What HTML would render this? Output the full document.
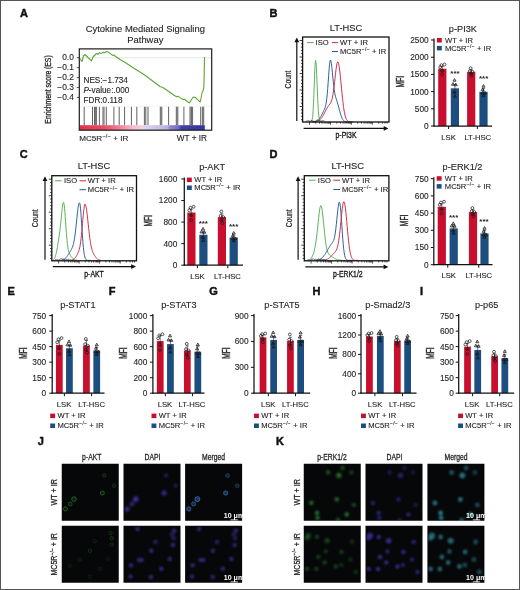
<!DOCTYPE html>
<html lang="en"><head><meta charset="utf-8"><title>Figure</title>
<style>html,body{margin:0;padding:0;background:#fff}body{width:520px;height:590px;overflow:hidden;font-family:"Liberation Sans",sans-serif}svg{display:block}text{white-space:pre}</style>
</head><body>
<svg width="520" height="590" viewBox="0 0 520 590" font-family="'Liberation Sans', sans-serif">
<defs><filter id="bl" x="-5%" y="-5%" width="110%" height="110%"><feGaussianBlur stdDeviation="0.8"/></filter><filter id="bl2" x="-5%" y="-5%" width="110%" height="110%"><feGaussianBlur stdDeviation="0.5"/></filter>
<linearGradient id="gs" x1="0" x2="1" y1="0" y2="0"><stop offset="0" stop-color="#e5304a"/><stop offset="0.2" stop-color="#ea4c66"/><stop offset="0.32" stop-color="#f0829a"/><stop offset="0.42" stop-color="#f4b9cb"/><stop offset="0.5" stop-color="#ecd3e6"/><stop offset="0.56" stop-color="#d3cdec"/><stop offset="0.7" stop-color="#b7b4e1"/><stop offset="0.72" stop-color="#8f8cd0"/><stop offset="0.79" stop-color="#6e6bc0"/><stop offset="0.81" stop-color="#4242aa"/><stop offset="1" stop-color="#34349e"/></linearGradient>
<clipPath id="cp1"><rect x="61.75" y="463.75" width="57" height="57"/></clipPath><clipPath id="cp2"><rect x="123.50" y="463.75" width="57" height="57"/></clipPath><clipPath id="cp3"><rect x="185.10" y="463.75" width="57" height="57"/></clipPath><clipPath id="cp4"><rect x="61.75" y="525.75" width="57" height="57"/></clipPath><clipPath id="cp5"><rect x="123.50" y="525.75" width="57" height="57"/></clipPath><clipPath id="cp6"><rect x="185.10" y="525.75" width="57" height="57"/></clipPath><clipPath id="cp7"><rect x="303.75" y="463.75" width="57" height="57"/></clipPath><clipPath id="cp8"><rect x="365.50" y="463.75" width="57" height="57"/></clipPath><clipPath id="cp9"><rect x="427.40" y="463.75" width="57" height="57"/></clipPath><clipPath id="cp10"><rect x="303.75" y="525.75" width="57" height="57"/></clipPath><clipPath id="cp11"><rect x="365.50" y="525.75" width="57" height="57"/></clipPath><clipPath id="cp12"><rect x="427.40" y="525.75" width="57" height="57"/></clipPath>
</defs>
<rect x="0" y="0" width="520" height="590" fill="#fff"/>
<text transform="translate(19.90,16.60)" font-size="11.0" text-anchor="start" font-weight="bold" fill="#111" style="stroke:#111;stroke-width:0.45">A</text>
<text transform="translate(269.40,16.60)" font-size="11.0" text-anchor="start" font-weight="bold" fill="#111" style="stroke:#111;stroke-width:0.45">B</text>
<text transform="translate(19.70,158.00)" font-size="11.0" text-anchor="start" font-weight="bold" fill="#111" style="stroke:#111;stroke-width:0.45">C</text>
<text transform="translate(269.60,158.00)" font-size="11.0" text-anchor="start" font-weight="bold" fill="#111" style="stroke:#111;stroke-width:0.45">D</text>
<text transform="translate(7.50,294.80)" font-size="11.0" text-anchor="start" font-weight="bold" fill="#111" style="stroke:#111;stroke-width:0.45">E</text>
<text transform="translate(108.70,294.80)" font-size="11.0" text-anchor="start" font-weight="bold" fill="#111" style="stroke:#111;stroke-width:0.45">F</text>
<text transform="translate(209.30,294.80)" font-size="11.0" text-anchor="start" font-weight="bold" fill="#111" style="stroke:#111;stroke-width:0.45">G</text>
<text transform="translate(312.50,294.80)" font-size="11.0" text-anchor="start" font-weight="bold" fill="#111" style="stroke:#111;stroke-width:0.45">H</text>
<text transform="translate(419.90,294.80)" font-size="11.0" text-anchor="start" font-weight="bold" fill="#111" style="stroke:#111;stroke-width:0.45">I</text>
<text transform="translate(37.70,445.00)" font-size="11.0" text-anchor="start" font-weight="bold" fill="#111" style="stroke:#111;stroke-width:0.45">J</text>
<text transform="translate(276.10,445.00)" font-size="11.0" text-anchor="start" font-weight="bold" fill="#111" style="stroke:#111;stroke-width:0.45">K</text>
<text transform="translate(145.30,31.80)" font-size="9.42" text-anchor="middle" fill="#231f20" stroke="#231f20" stroke-width="0.12">Cytokine Mediated Signaling</text>
<text transform="translate(145.30,43.10)" font-size="9.42" text-anchor="middle" fill="#231f20" stroke="#231f20" stroke-width="0.12">Pathway</text>
<line x1="79.30" y1="57.70" x2="211.70" y2="57.70" stroke="#d8d8d8" stroke-width="0.6"/>
<line x1="79.30" y1="106.30" x2="211.70" y2="106.30" stroke="#e4e4e4" stroke-width="0.5"/>
<line x1="84.20" y1="106.80" x2="84.20" y2="125.30" stroke="#3a3a3a" stroke-width="0.8"/>
<line x1="92.50" y1="106.80" x2="92.50" y2="125.30" stroke="#3a3a3a" stroke-width="0.8"/>
<line x1="94.50" y1="106.80" x2="94.50" y2="125.30" stroke="#3a3a3a" stroke-width="0.8"/>
<line x1="96.40" y1="106.80" x2="96.40" y2="125.30" stroke="#3a3a3a" stroke-width="0.8"/>
<line x1="99.40" y1="106.80" x2="99.40" y2="125.30" stroke="#3a3a3a" stroke-width="0.8"/>
<line x1="104.00" y1="106.80" x2="104.00" y2="125.30" stroke="#3a3a3a" stroke-width="0.8"/>
<line x1="106.30" y1="106.80" x2="106.30" y2="125.30" stroke="#3a3a3a" stroke-width="0.8"/>
<line x1="113.90" y1="106.80" x2="113.90" y2="125.30" stroke="#3a3a3a" stroke-width="0.8"/>
<line x1="119.20" y1="106.80" x2="119.20" y2="125.30" stroke="#3a3a3a" stroke-width="0.8"/>
<line x1="124.60" y1="106.80" x2="124.60" y2="125.30" stroke="#3a3a3a" stroke-width="0.8"/>
<line x1="131.40" y1="106.80" x2="131.40" y2="125.30" stroke="#3a3a3a" stroke-width="0.8"/>
<line x1="136.80" y1="106.80" x2="136.80" y2="125.30" stroke="#3a3a3a" stroke-width="0.8"/>
<line x1="144.40" y1="106.80" x2="144.40" y2="125.30" stroke="#3a3a3a" stroke-width="0.8"/>
<line x1="145.80" y1="106.80" x2="145.80" y2="125.30" stroke="#3a3a3a" stroke-width="0.8"/>
<line x1="148.00" y1="106.80" x2="148.00" y2="125.30" stroke="#3a3a3a" stroke-width="0.8"/>
<line x1="160.30" y1="106.80" x2="160.30" y2="125.30" stroke="#3a3a3a" stroke-width="0.8"/>
<line x1="161.80" y1="106.80" x2="161.80" y2="125.30" stroke="#3a3a3a" stroke-width="0.8"/>
<line x1="168.60" y1="106.80" x2="168.60" y2="125.30" stroke="#3a3a3a" stroke-width="0.8"/>
<line x1="176.30" y1="106.80" x2="176.30" y2="125.30" stroke="#3a3a3a" stroke-width="0.8"/>
<line x1="177.80" y1="106.80" x2="177.80" y2="125.30" stroke="#3a3a3a" stroke-width="0.8"/>
<line x1="183.90" y1="106.80" x2="183.90" y2="125.30" stroke="#3a3a3a" stroke-width="0.8"/>
<line x1="190.00" y1="106.80" x2="190.00" y2="125.30" stroke="#3a3a3a" stroke-width="0.8"/>
<line x1="191.50" y1="106.80" x2="191.50" y2="125.30" stroke="#3a3a3a" stroke-width="0.8"/>
<line x1="192.60" y1="106.80" x2="192.60" y2="125.30" stroke="#3a3a3a" stroke-width="0.8"/>
<line x1="200.70" y1="106.80" x2="200.70" y2="125.30" stroke="#3a3a3a" stroke-width="0.8"/>
<line x1="202.40" y1="106.80" x2="202.40" y2="125.30" stroke="#3a3a3a" stroke-width="0.8"/>
<line x1="203.70" y1="106.80" x2="203.70" y2="125.30" stroke="#3a3a3a" stroke-width="0.8"/>
<line x1="95.50" y1="106.80" x2="95.50" y2="125.30" stroke="#777" stroke-width="1.2"/>
<line x1="103.00" y1="106.80" x2="103.00" y2="125.30" stroke="#777" stroke-width="1.2"/>
<line x1="161.00" y1="106.80" x2="161.00" y2="125.30" stroke="#777" stroke-width="1.2"/>
<line x1="177.00" y1="106.80" x2="177.00" y2="125.30" stroke="#777" stroke-width="1.2"/>
<line x1="191.00" y1="106.80" x2="191.00" y2="125.30" stroke="#777" stroke-width="1.2"/>
<line x1="203.00" y1="106.80" x2="203.00" y2="125.30" stroke="#777" stroke-width="1.2"/>
<rect x="79.80" y="125.20" width="125.00" height="4.80" fill="url(#gs)"/>
<path d="M79.5,58 L80.5,59.5 L82,61.5 L83.5,56 L85,54.5 L87,56.5 L89,58.5 L91.5,60.8 L93,57 L95,55 L96.5,53.5 L98,54.3 L99.5,52.6 L101,53.6 L103,52.4 L104.5,52.8 L106.3,51.6 L108.5,52.3 L110.5,53.6 L112.5,55.4 L114,55 L116,56.8 L120,59.5 L126,63 L132,67 L138,70.8 L145,75.3 L152,80.5 L158,85 L160.3,86.7 L162.5,87.2 L168,91 L174,95.2 L176.3,96.6 L178,96.2 L180,97.6 L183,99.5 L184.5,99.2 L187,101.2 L189.2,102.9 L191,100.5 L192.5,98 L193.8,97 L195.5,97.5 L197.5,99.6 L200.2,102 L200.9,99 L201.5,95.5 L202.2,92 L203,91 L203.7,88.2 L204.1,80 L204.5,57" fill="none" stroke="#5fa533" stroke-width="1.1" stroke-linejoin="round"/>
<rect x="79.3" y="48.9" width="132.39999999999998" height="81.29999999999998" fill="none" stroke="#1c1c1c" stroke-width="1.2"/>
<line x1="76.80" y1="57.70" x2="79.30" y2="57.70" stroke="#2a2a2a" stroke-width="0.8"/>
<text transform="translate(73.80,60.30)" font-size="8.4" text-anchor="end" fill="#231f20" stroke="#231f20" stroke-width="0.12">0.0</text>
<line x1="76.80" y1="67.63" x2="79.30" y2="67.63" stroke="#2a2a2a" stroke-width="0.8"/>
<text transform="translate(73.80,70.23)" font-size="8.4" text-anchor="end" fill="#231f20" stroke="#231f20" stroke-width="0.12">−0.1</text>
<line x1="76.80" y1="77.56" x2="79.30" y2="77.56" stroke="#2a2a2a" stroke-width="0.8"/>
<text transform="translate(73.80,80.16)" font-size="8.4" text-anchor="end" fill="#231f20" stroke="#231f20" stroke-width="0.12">−0.2</text>
<line x1="76.80" y1="87.49" x2="79.30" y2="87.49" stroke="#2a2a2a" stroke-width="0.8"/>
<text transform="translate(73.80,90.09)" font-size="8.4" text-anchor="end" fill="#231f20" stroke="#231f20" stroke-width="0.12">−0.3</text>
<line x1="76.80" y1="97.42" x2="79.30" y2="97.42" stroke="#2a2a2a" stroke-width="0.8"/>
<text transform="translate(73.80,100.02)" font-size="8.4" text-anchor="end" fill="#231f20" stroke="#231f20" stroke-width="0.12">−0.4</text>
<text transform="translate(83.50,83.00)" font-size="8.2" text-anchor="start" fill="#231f20" stroke="#231f20" stroke-width="0.12">NES:−1.734</text>
<text transform="translate(83.40,93.00)" font-size="8.2" text-anchor="start" fill="#231f20" stroke="#231f20" stroke-width="0.12"><tspan font-style="italic">P</tspan>-value:.000</text>
<text transform="translate(83.50,103.00)" font-size="8.2" text-anchor="start" fill="#231f20" stroke="#231f20" stroke-width="0.12">FDR:0.118</text>
<text transform="translate(50.90,89.50) rotate(-90) scale(0.81,1)" font-size="8.4" text-anchor="middle" fill="#231f20" style="stroke-width:0.3" stroke="#231f20" stroke-width="0.22">Enrichment score (ES)</text>
<text transform="translate(79.20,141.00)" font-size="8.1" text-anchor="start" fill="#231f20" stroke="#231f20" stroke-width="0.12">MC5R<tspan font-size="5.35" dy="-2.92" dx="0.3" letter-spacing="0.25">−/−</tspan><tspan dy="2.92" dx="0.1"> + IR</tspan></text>
<text transform="translate(206.90,141.00)" font-size="8.2" text-anchor="end" fill="#231f20" stroke="#231f20" stroke-width="0.12">WT + IR</text>
<path d="M309.00,122.00 L309.18,122.00 L309.35,122.00 L309.52,122.00 L309.70,122.00 L309.88,121.99 L310.05,121.99 L310.23,121.98 L310.40,121.96 L310.57,121.94 L310.75,121.90 L310.93,121.85 L311.10,121.76 L311.27,121.64 L311.45,121.45 L311.62,121.19 L311.80,120.83 L311.98,120.32 L312.15,119.65 L312.32,118.75 L312.50,117.59 L312.68,116.11 L312.85,114.26 L313.02,112.00 L313.20,109.31 L313.38,106.15 L313.55,102.54 L313.73,98.51 L313.90,94.11 L314.07,89.44 L314.25,84.62 L314.43,79.80 L314.60,75.15 L314.77,70.86 L314.95,67.11 L315.12,64.07 L315.30,61.87 L315.48,60.63 L315.65,60.40 L315.82,61.06 L316.00,62.52 L316.18,64.73 L316.35,67.61 L316.52,71.04 L316.70,74.90 L316.88,79.05 L317.05,83.37 L317.23,87.73 L317.40,92.00 L317.57,96.10 L317.75,99.93 L317.93,103.46 L318.10,106.63 L318.27,109.43 L318.45,111.86 L318.62,113.93 L318.80,115.67 L318.98,117.10 L319.15,118.25 L319.32,119.18 L319.50,119.90 L319.68,120.46 L319.85,120.89 L320.02,121.21 L320.20,121.44 L320.38,121.61 L320.55,121.73 L320.73,121.82 L320.90,121.88 L321.07,121.92 L321.25,121.95 L321.43,121.97 L321.60,121.98 L321.77,121.99 L321.95,121.99 L322.12,122.00 L322.30,122.00 L322.48,122.00 L322.65,122.00 L322.82,122.00 L323.00,122.00" fill="none" stroke="#4fb04c" stroke-width="0.95" stroke-linejoin="round"/>
<path d="M312.00,121.97 L312.46,121.95 L312.93,121.93 L313.39,121.90 L313.85,121.85 L314.31,121.80 L314.77,121.72 L315.24,121.63 L315.70,121.50 L316.16,121.34 L316.62,121.15 L317.09,120.90 L317.55,120.60 L318.01,120.24 L318.48,119.82 L318.94,119.32 L319.40,118.75 L319.86,118.11 L320.32,117.40 L320.79,116.63 L321.25,115.80 L321.71,114.92 L322.18,114.02 L322.64,113.09 L323.10,112.17 L323.56,111.24 L324.02,110.29 L324.49,109.27 L324.95,108.09 L325.41,106.62 L325.88,104.68 L326.34,102.04 L326.80,98.50 L327.26,93.93 L327.73,88.37 L328.19,82.04 L328.65,75.43 L329.11,69.22 L329.57,64.16 L330.04,60.94 L330.50,60.00 L330.96,61.01 L331.43,63.62 L331.89,67.46 L332.35,72.08 L332.81,76.97 L333.27,81.72 L333.74,85.99 L334.20,89.61 L334.66,92.55 L335.12,94.88 L335.59,96.74 L336.05,98.30 L336.51,99.72 L336.98,101.13 L337.44,102.62 L337.90,104.21 L338.36,105.90 L338.82,107.67 L339.29,109.47 L339.75,111.24 L340.21,112.93 L340.68,114.50 L341.14,115.92 L341.60,117.16 L342.06,118.23 L342.52,119.11 L342.99,119.83 L343.45,120.41 L343.91,120.85 L344.38,121.19 L344.84,121.44 L345.30,121.62 L345.76,121.74 L346.23,121.83 L346.69,121.89 L347.15,121.93 L347.61,121.96 L348.07,121.97 L348.54,121.99 L349.00,121.99" fill="none" stroke="#245a99" stroke-width="0.95" stroke-linejoin="round"/>
<path d="M313.00,121.95 L313.50,121.93 L314.00,121.90 L314.50,121.86 L315.00,121.82 L315.50,121.75 L316.00,121.67 L316.50,121.57 L317.00,121.43 L317.50,121.27 L318.00,121.07 L318.50,120.82 L319.00,120.52 L319.50,120.17 L320.00,119.75 L320.50,119.27 L321.00,118.71 L321.50,118.08 L322.00,117.38 L322.50,116.61 L323.00,115.77 L323.50,114.86 L324.00,113.91 L324.50,112.93 L325.00,111.92 L325.50,110.91 L326.00,109.92 L326.50,108.96 L327.00,108.06 L327.50,107.22 L328.00,106.45 L328.50,105.75 L329.00,105.10 L329.50,104.47 L330.00,103.81 L330.50,103.04 L331.00,102.08 L331.50,100.82 L332.00,99.17 L332.50,97.03 L333.00,94.32 L333.50,91.02 L334.00,87.17 L334.50,82.88 L335.00,78.34 L335.50,73.80 L336.00,69.58 L336.50,66.00 L337.00,63.39 L337.50,62.00 L338.00,62.01 L338.50,63.31 L339.00,65.69 L339.50,69.03 L340.00,73.18 L340.50,77.91 L341.00,83.01 L341.50,88.22 L342.00,93.35 L342.50,98.21 L343.00,102.66 L343.50,106.60 L344.00,110.00 L344.50,112.85 L345.00,115.17 L345.50,117.00 L346.00,118.42 L346.50,119.50 L347.00,120.28 L347.50,120.85 L348.00,121.24 L348.50,121.51 L349.00,121.69 L349.50,121.81 L350.00,121.89 L350.50,121.93 L351.00,121.96 L351.50,121.98 L352.00,121.99 L352.50,121.99 L353.00,122.00" fill="none" stroke="#cb2840" stroke-width="0.95" stroke-linejoin="round"/>
<rect x="302.60" y="37.00" width="86.40" height="85.00" fill="none" stroke="#111" stroke-width="1.3"/>
<line x1="299.60" y1="40.50" x2="302.60" y2="40.50" stroke="#111" stroke-width="0.8"/>
<line x1="300.90" y1="43.80" x2="302.60" y2="43.80" stroke="#111" stroke-width="0.8"/>
<line x1="300.90" y1="47.10" x2="302.60" y2="47.10" stroke="#111" stroke-width="0.8"/>
<line x1="300.90" y1="50.40" x2="302.60" y2="50.40" stroke="#111" stroke-width="0.8"/>
<line x1="300.90" y1="53.70" x2="302.60" y2="53.70" stroke="#111" stroke-width="0.8"/>
<line x1="299.60" y1="57.00" x2="302.60" y2="57.00" stroke="#111" stroke-width="0.8"/>
<line x1="300.90" y1="60.30" x2="302.60" y2="60.30" stroke="#111" stroke-width="0.8"/>
<line x1="300.90" y1="63.60" x2="302.60" y2="63.60" stroke="#111" stroke-width="0.8"/>
<line x1="300.90" y1="66.90" x2="302.60" y2="66.90" stroke="#111" stroke-width="0.8"/>
<line x1="300.90" y1="70.20" x2="302.60" y2="70.20" stroke="#111" stroke-width="0.8"/>
<line x1="299.60" y1="73.50" x2="302.60" y2="73.50" stroke="#111" stroke-width="0.8"/>
<line x1="300.90" y1="76.80" x2="302.60" y2="76.80" stroke="#111" stroke-width="0.8"/>
<line x1="300.90" y1="80.10" x2="302.60" y2="80.10" stroke="#111" stroke-width="0.8"/>
<line x1="300.90" y1="83.40" x2="302.60" y2="83.40" stroke="#111" stroke-width="0.8"/>
<line x1="300.90" y1="86.70" x2="302.60" y2="86.70" stroke="#111" stroke-width="0.8"/>
<line x1="299.60" y1="90.00" x2="302.60" y2="90.00" stroke="#111" stroke-width="0.8"/>
<line x1="300.90" y1="93.30" x2="302.60" y2="93.30" stroke="#111" stroke-width="0.8"/>
<line x1="300.90" y1="96.60" x2="302.60" y2="96.60" stroke="#111" stroke-width="0.8"/>
<line x1="300.90" y1="99.90" x2="302.60" y2="99.90" stroke="#111" stroke-width="0.8"/>
<line x1="300.90" y1="103.20" x2="302.60" y2="103.20" stroke="#111" stroke-width="0.8"/>
<line x1="299.60" y1="106.50" x2="302.60" y2="106.50" stroke="#111" stroke-width="0.8"/>
<line x1="300.90" y1="109.80" x2="302.60" y2="109.80" stroke="#111" stroke-width="0.8"/>
<line x1="300.90" y1="113.10" x2="302.60" y2="113.10" stroke="#111" stroke-width="0.8"/>
<line x1="300.90" y1="116.40" x2="302.60" y2="116.40" stroke="#111" stroke-width="0.8"/>
<line x1="300.90" y1="119.70" x2="302.60" y2="119.70" stroke="#111" stroke-width="0.8"/>
<line x1="309.51" y1="122.00" x2="309.51" y2="124.80" stroke="#111" stroke-width="0.7"/>
<line x1="315.82" y1="122.00" x2="315.82" y2="123.70" stroke="#111" stroke-width="0.7"/>
<line x1="319.51" y1="122.00" x2="319.51" y2="123.70" stroke="#111" stroke-width="0.7"/>
<line x1="322.13" y1="122.00" x2="322.13" y2="123.70" stroke="#111" stroke-width="0.7"/>
<line x1="324.16" y1="122.00" x2="324.16" y2="123.70" stroke="#111" stroke-width="0.7"/>
<line x1="325.82" y1="122.00" x2="325.82" y2="123.70" stroke="#111" stroke-width="0.7"/>
<line x1="327.22" y1="122.00" x2="327.22" y2="123.70" stroke="#111" stroke-width="0.7"/>
<line x1="328.43" y1="122.00" x2="328.43" y2="123.70" stroke="#111" stroke-width="0.7"/>
<line x1="329.51" y1="122.00" x2="329.51" y2="123.70" stroke="#111" stroke-width="0.7"/>
<line x1="330.46" y1="122.00" x2="330.46" y2="124.80" stroke="#111" stroke-width="0.7"/>
<line x1="336.77" y1="122.00" x2="336.77" y2="123.70" stroke="#111" stroke-width="0.7"/>
<line x1="340.46" y1="122.00" x2="340.46" y2="123.70" stroke="#111" stroke-width="0.7"/>
<line x1="343.08" y1="122.00" x2="343.08" y2="123.70" stroke="#111" stroke-width="0.7"/>
<line x1="345.11" y1="122.00" x2="345.11" y2="123.70" stroke="#111" stroke-width="0.7"/>
<line x1="346.77" y1="122.00" x2="346.77" y2="123.70" stroke="#111" stroke-width="0.7"/>
<line x1="348.17" y1="122.00" x2="348.17" y2="123.70" stroke="#111" stroke-width="0.7"/>
<line x1="349.39" y1="122.00" x2="349.39" y2="123.70" stroke="#111" stroke-width="0.7"/>
<line x1="350.46" y1="122.00" x2="350.46" y2="123.70" stroke="#111" stroke-width="0.7"/>
<line x1="351.42" y1="122.00" x2="351.42" y2="124.80" stroke="#111" stroke-width="0.7"/>
<line x1="357.72" y1="122.00" x2="357.72" y2="123.70" stroke="#111" stroke-width="0.7"/>
<line x1="361.41" y1="122.00" x2="361.41" y2="123.70" stroke="#111" stroke-width="0.7"/>
<line x1="364.03" y1="122.00" x2="364.03" y2="123.70" stroke="#111" stroke-width="0.7"/>
<line x1="366.06" y1="122.00" x2="366.06" y2="123.70" stroke="#111" stroke-width="0.7"/>
<line x1="367.72" y1="122.00" x2="367.72" y2="123.70" stroke="#111" stroke-width="0.7"/>
<line x1="369.12" y1="122.00" x2="369.12" y2="123.70" stroke="#111" stroke-width="0.7"/>
<line x1="370.34" y1="122.00" x2="370.34" y2="123.70" stroke="#111" stroke-width="0.7"/>
<line x1="371.41" y1="122.00" x2="371.41" y2="123.70" stroke="#111" stroke-width="0.7"/>
<line x1="372.37" y1="122.00" x2="372.37" y2="124.80" stroke="#111" stroke-width="0.7"/>
<line x1="378.68" y1="122.00" x2="378.68" y2="123.70" stroke="#111" stroke-width="0.7"/>
<line x1="382.36" y1="122.00" x2="382.36" y2="123.70" stroke="#111" stroke-width="0.7"/>
<line x1="384.98" y1="122.00" x2="384.98" y2="123.70" stroke="#111" stroke-width="0.7"/>
<line x1="387.01" y1="122.00" x2="387.01" y2="123.70" stroke="#111" stroke-width="0.7"/>
<path d="M305.60,121.40 L306.50,121.12 L307.40,120.99 L308.30,120.78 L309.20,120.94 L310.10,121.39 L311.00,120.48 L311.90,120.70 L312.80,121.04 L313.70,121.34 L314.60,121.38 L315.50,121.09 L316.40,120.41 L317.30,119.91 L318.20,120.73 L319.10,120.60 L320.00,121.20 L320.90,121.05 L321.80,120.83 L322.70,120.88 L323.60,121.03 L324.50,121.10" fill="none" stroke="#222" stroke-width="0.7"/>
<line x1="296.80" y1="121.00" x2="296.80" y2="40.00" stroke="#111" stroke-width="1.2"/>
<path d="M296.80,37.50 l2.4,4.8 h-4.8 z" fill="#111"/>
<line x1="303.60" y1="128.40" x2="385.00" y2="128.40" stroke="#111" stroke-width="1.2"/>
<path d="M388.50,128.40 l-4.8,-2.4 v4.8 z" fill="#111"/>
<text transform="translate(346.00,31.20)" font-size="9.35" text-anchor="middle" fill="#231f20" stroke="#231f20" stroke-width="0.12">LT-HSC</text>
<text transform="translate(346.00,138.10) scale(0.76,1)" font-size="9.0" text-anchor="middle" fill="#231f20" style="stroke-width:0.38" stroke="#231f20" stroke-width="0.22">p-PI3K</text>
<text transform="translate(290.50,79.50) rotate(-90) scale(0.8,1)" font-size="8.4" text-anchor="middle" fill="#231f20" stroke="#231f20" stroke-width="0.22">Count</text>
<line x1="307.00" y1="42.60" x2="313.60" y2="42.60" stroke="#4fb04c" stroke-width="1.0"/>
<text transform="translate(315.60,45.20)" font-size="7.6" text-anchor="start" fill="#231f20" stroke="#231f20" stroke-width="0.12">ISO</text>
<line x1="332.00" y1="42.60" x2="338.00" y2="42.60" stroke="#cb2840" stroke-width="1.0"/>
<text transform="translate(340.00,45.20)" font-size="7.6" text-anchor="start" fill="#231f20" stroke="#231f20" stroke-width="0.12">WT + IR</text>
<line x1="332.00" y1="51.50" x2="338.00" y2="51.50" stroke="#245a99" stroke-width="1.0"/>
<text transform="translate(340.00,54.10)" font-size="7.6" text-anchor="start" fill="#231f20" stroke="#231f20" stroke-width="0.12">MC5R<tspan font-size="5.02" dy="-2.74" dx="0.3" letter-spacing="0.25">−/−</tspan><tspan dy="2.74" dx="0.1"> + IR</tspan></text>
<rect x="438.20" y="68.72" width="8.20" height="57.28" fill="#c8102e"/>
<rect x="450.80" y="88.33" width="8.20" height="37.67" fill="#1c4e80"/>
<rect x="467.10" y="71.82" width="8.20" height="54.18" fill="#c8102e"/>
<rect x="479.40" y="91.77" width="8.20" height="34.23" fill="#1c4e80"/>
<line x1="442.30" y1="66.32" x2="442.30" y2="71.13" stroke="#231f20" stroke-width="0.6"/>
<line x1="440.70" y1="66.32" x2="443.90" y2="66.32" stroke="#231f20" stroke-width="0.6"/>
<line x1="440.70" y1="71.13" x2="443.90" y2="71.13" stroke="#231f20" stroke-width="0.6"/>
<circle cx="441.40" cy="65.19" r="1.42" fill="none" stroke="#1a1a1a" stroke-width="0.72"/>
<circle cx="444.50" cy="64.43" r="1.42" fill="none" stroke="#1a1a1a" stroke-width="0.72"/>
<circle cx="440.20" cy="67.07" r="1.42" fill="none" stroke="#1a1a1a" stroke-width="0.72"/>
<circle cx="442.00" cy="70.76" r="1.42" fill="none" stroke="#1a1a1a" stroke-width="0.72"/>
<circle cx="442.10" cy="74.37" r="1.42" fill="none" stroke="#1a1a1a" stroke-width="0.72"/>
<line x1="454.90" y1="84.55" x2="454.90" y2="92.12" stroke="#231f20" stroke-width="0.6"/>
<line x1="453.30" y1="84.55" x2="456.50" y2="84.55" stroke="#231f20" stroke-width="0.6"/>
<line x1="453.30" y1="92.12" x2="456.50" y2="92.12" stroke="#231f20" stroke-width="0.6"/>
<path d="M454.50,78.55 l1.55,2.7 h-3.1 z" fill="rgba(20,20,20,0.3)" stroke="#1a1a1a" stroke-width="0.7"/>
<path d="M453.00,82.57 l1.55,2.7 h-3.1 z" fill="rgba(20,20,20,0.3)" stroke="#1a1a1a" stroke-width="0.7"/>
<path d="M455.80,83.05 l1.55,2.7 h-3.1 z" fill="rgba(20,20,20,0.3)" stroke="#1a1a1a" stroke-width="0.7"/>
<path d="M454.30,90.62 l1.55,2.7 h-3.1 z" fill="rgba(20,20,20,0.3)" stroke="#1a1a1a" stroke-width="0.7"/>
<path d="M454.90,94.52 l1.55,2.7 h-3.1 z" fill="rgba(20,20,20,0.3)" stroke="#1a1a1a" stroke-width="0.7"/>
<line x1="471.20" y1="69.76" x2="471.20" y2="73.88" stroke="#231f20" stroke-width="0.6"/>
<line x1="469.60" y1="69.76" x2="472.80" y2="69.76" stroke="#231f20" stroke-width="0.6"/>
<line x1="469.60" y1="73.88" x2="472.80" y2="73.88" stroke="#231f20" stroke-width="0.6"/>
<circle cx="470.60" cy="68.21" r="1.42" fill="none" stroke="#1a1a1a" stroke-width="0.72"/>
<circle cx="469.90" cy="71.05" r="1.42" fill="none" stroke="#1a1a1a" stroke-width="0.72"/>
<circle cx="472.50" cy="71.82" r="1.42" fill="none" stroke="#1a1a1a" stroke-width="0.72"/>
<circle cx="470.70" cy="73.95" r="1.42" fill="none" stroke="#1a1a1a" stroke-width="0.72"/>
<circle cx="471.70" cy="75.69" r="1.42" fill="none" stroke="#1a1a1a" stroke-width="0.72"/>
<line x1="483.50" y1="88.68" x2="483.50" y2="94.87" stroke="#231f20" stroke-width="0.6"/>
<line x1="481.90" y1="88.68" x2="485.10" y2="88.68" stroke="#231f20" stroke-width="0.6"/>
<line x1="481.90" y1="94.87" x2="485.10" y2="94.87" stroke="#231f20" stroke-width="0.6"/>
<path d="M483.50,84.47 l1.55,2.7 h-3.1 z" fill="rgba(20,20,20,0.3)" stroke="#1a1a1a" stroke-width="0.7"/>
<path d="M482.50,91.43 l1.55,2.7 h-3.1 z" fill="rgba(20,20,20,0.3)" stroke="#1a1a1a" stroke-width="0.7"/>
<path d="M485.00,91.43 l1.55,2.7 h-3.1 z" fill="rgba(20,20,20,0.3)" stroke="#1a1a1a" stroke-width="0.7"/>
<path d="M483.50,94.14 l1.55,2.7 h-3.1 z" fill="rgba(20,20,20,0.3)" stroke="#1a1a1a" stroke-width="0.7"/>
<path d="M482.70,87.85 l1.55,2.7 h-3.1 z" fill="rgba(20,20,20,0.3)" stroke="#1a1a1a" stroke-width="0.7"/>
<line x1="434.00" y1="38.50" x2="434.00" y2="126.60" stroke="#111" stroke-width="1.25"/>
<line x1="433.40" y1="126.00" x2="492.00" y2="126.00" stroke="#111" stroke-width="1.25"/>
<line x1="431.00" y1="126.00" x2="434.00" y2="126.00" stroke="#111" stroke-width="1.0"/>
<text transform="translate(428.70,128.90)" font-size="8.3" text-anchor="end" fill="#231f20" stroke="#231f20" stroke-width="0.12">0</text>
<line x1="431.00" y1="108.80" x2="434.00" y2="108.80" stroke="#111" stroke-width="1.0"/>
<text transform="translate(428.70,111.70)" font-size="8.3" text-anchor="end" fill="#231f20" stroke="#231f20" stroke-width="0.12">500</text>
<line x1="431.00" y1="91.60" x2="434.00" y2="91.60" stroke="#111" stroke-width="1.0"/>
<text transform="translate(428.70,94.50)" font-size="8.3" text-anchor="end" fill="#231f20" stroke="#231f20" stroke-width="0.12">1000</text>
<line x1="431.00" y1="74.40" x2="434.00" y2="74.40" stroke="#111" stroke-width="1.0"/>
<text transform="translate(428.70,77.30)" font-size="8.3" text-anchor="end" fill="#231f20" stroke="#231f20" stroke-width="0.12">1500</text>
<line x1="431.00" y1="57.20" x2="434.00" y2="57.20" stroke="#111" stroke-width="1.0"/>
<text transform="translate(428.70,60.10)" font-size="8.3" text-anchor="end" fill="#231f20" stroke="#231f20" stroke-width="0.12">2000</text>
<line x1="431.00" y1="40.00" x2="434.00" y2="40.00" stroke="#111" stroke-width="1.0"/>
<text transform="translate(428.70,42.90)" font-size="8.3" text-anchor="end" fill="#231f20" stroke="#231f20" stroke-width="0.12">2500</text>
<line x1="448.60" y1="126.00" x2="448.60" y2="129.00" stroke="#111" stroke-width="1.0"/>
<line x1="477.35" y1="126.00" x2="477.35" y2="129.00" stroke="#111" stroke-width="1.0"/>
<text transform="translate(448.50,139.60)" font-size="7.7" text-anchor="middle" fill="#231f20" stroke="#231f20" stroke-width="0.12">LSK</text>
<text transform="translate(477.80,139.60)" font-size="7.7" text-anchor="middle" fill="#231f20" stroke="#231f20" stroke-width="0.12">LT-HSC</text>
<text transform="translate(462.90,32.00)" font-size="9.2" text-anchor="middle" fill="#231f20" stroke="#231f20" stroke-width="0.12">p-PI3K</text>
<text transform="translate(403.80,81.70) rotate(-90) scale(0.655,1)" font-size="10.2" text-anchor="middle" fill="#231f20" style="stroke-width:0.42" stroke="#231f20" stroke-width="0.22">MFI</text>
<rect x="436.90" y="38.00" width="4.90" height="4.50" fill="#c8102e"/>
<text transform="translate(445.00,42.70)" font-size="7.6" text-anchor="start" fill="#231f20" stroke="#231f20" stroke-width="0.12">WT + IR</text>
<rect x="436.90" y="45.90" width="4.90" height="4.50" fill="#1c4e80"/>
<text transform="translate(445.00,50.60)" font-size="7.6" text-anchor="start" fill="#231f20" stroke="#231f20" stroke-width="0.12">MC5R<tspan font-size="5.02" dy="-2.74" dx="0.3" letter-spacing="0.25">−/−</tspan><tspan dy="2.74" dx="0.1"> + IR</tspan></text>
<text transform="translate(455.00,75.60)" font-size="8" text-anchor="middle" font-weight="bold" fill="#231f20">***</text>
<text transform="translate(483.60,80.80)" font-size="8" text-anchor="middle" font-weight="bold" fill="#231f20">***</text>
<path d="M52.80,260.08 L53.10,259.94 L53.40,259.75 L53.71,259.50 L54.01,259.16 L54.31,258.74 L54.61,258.21 L54.92,257.55 L55.22,256.77 L55.52,255.83 L55.82,254.76 L56.13,253.53 L56.43,252.17 L56.73,250.69 L57.03,249.09 L57.34,247.41 L57.64,245.67 L57.94,243.86 L58.24,242.02 L58.55,240.13 L58.85,238.18 L59.15,236.15 L59.45,234.02 L59.76,231.74 L60.06,229.30 L60.36,226.66 L60.66,223.83 L60.97,220.83 L61.27,217.71 L61.57,214.56 L61.88,211.49 L62.18,208.64 L62.48,206.16 L62.78,204.19 L63.08,202.87 L63.39,202.30 L63.69,202.56 L63.99,203.73 L64.30,205.80 L64.60,208.66 L64.90,212.18 L65.20,216.19 L65.50,220.48 L65.81,224.86 L66.11,229.17 L66.41,233.25 L66.72,237.00 L67.02,240.35 L67.32,243.25 L67.62,245.72 L67.92,247.78 L68.23,249.47 L68.53,250.84 L68.83,251.94 L69.13,252.85 L69.44,253.60 L69.74,254.23 L70.04,254.78 L70.34,255.28 L70.65,255.73 L70.95,256.16 L71.25,256.57 L71.56,256.96 L71.86,257.33 L72.16,257.68 L72.46,258.01 L72.77,258.32 L73.07,258.60 L73.37,258.86 L73.67,259.09 L73.97,259.30 L74.28,259.48 L74.58,259.64 L74.88,259.78 L75.19,259.89 L75.49,259.99 L75.79,260.07 L76.09,260.14 L76.39,260.20 L76.70,260.24 L77.00,260.28" fill="none" stroke="#4fb04c" stroke-width="0.95" stroke-linejoin="round"/>
<path d="M62.00,260.05 L62.36,259.96 L62.73,259.85 L63.09,259.73 L63.45,259.58 L63.81,259.41 L64.17,259.21 L64.54,258.97 L64.90,258.71 L65.26,258.41 L65.62,258.07 L65.99,257.70 L66.35,257.30 L66.71,256.85 L67.08,256.38 L67.44,255.87 L67.80,255.34 L68.16,254.78 L68.53,254.20 L68.89,253.61 L69.25,253.01 L69.61,252.41 L69.97,251.80 L70.34,251.18 L70.70,250.56 L71.06,249.92 L71.42,249.25 L71.79,248.54 L72.15,247.75 L72.51,246.87 L72.88,245.85 L73.24,244.66 L73.60,243.26 L73.96,241.61 L74.33,239.67 L74.69,237.44 L75.05,234.89 L75.41,232.03 L75.78,228.90 L76.14,225.55 L76.50,222.04 L76.86,218.49 L77.22,215.00 L77.59,211.72 L77.95,208.77 L78.31,206.29 L78.67,204.41 L79.04,203.22 L79.40,202.80 L79.76,203.25 L80.12,205.02 L80.49,208.10 L80.85,212.28 L81.21,217.26 L81.58,222.74 L81.94,228.38 L82.30,233.88 L82.66,239.01 L83.03,243.60 L83.39,247.55 L83.75,250.82 L84.11,253.44 L84.47,255.48 L84.84,257.00 L85.20,258.11 L85.56,258.90 L85.92,259.43 L86.29,259.79 L86.65,260.02 L87.01,260.17 L87.38,260.26 L87.74,260.32 L88.10,260.35 L88.46,260.37 L88.83,260.38 L89.19,260.39 L89.55,260.39 L89.91,260.40 L90.28,260.40 L90.64,260.40 L91.00,260.40" fill="none" stroke="#245a99" stroke-width="0.95" stroke-linejoin="round"/>
<path d="M72.00,259.96 L72.36,259.84 L72.72,259.69 L73.09,259.51 L73.45,259.29 L73.81,259.04 L74.17,258.75 L74.54,258.42 L74.90,258.05 L75.26,257.63 L75.62,257.17 L75.99,256.67 L76.35,256.13 L76.71,255.55 L77.08,254.91 L77.44,254.23 L77.80,253.49 L78.16,252.66 L78.53,251.73 L78.89,250.65 L79.25,249.40 L79.61,247.91 L79.97,246.15 L80.34,244.05 L80.70,241.57 L81.06,238.70 L81.42,235.43 L81.79,231.79 L82.15,227.84 L82.51,223.71 L82.88,219.52 L83.24,215.47 L83.60,211.76 L83.96,208.58 L84.33,206.13 L84.69,204.56 L85.05,204.00 L85.41,204.41 L85.78,205.48 L86.14,207.12 L86.50,209.28 L86.86,211.89 L87.22,214.86 L87.59,218.09 L87.95,221.48 L88.31,224.92 L88.67,228.33 L89.04,231.62 L89.40,234.74 L89.76,237.63 L90.12,240.26 L90.49,242.61 L90.85,244.69 L91.21,246.51 L91.58,248.09 L91.94,249.45 L92.30,250.63 L92.66,251.65 L93.03,252.55 L93.39,253.36 L93.75,254.08 L94.11,254.75 L94.47,255.37 L94.84,255.95 L95.20,256.49 L95.56,257.00 L95.92,257.46 L96.29,257.90 L96.65,258.29 L97.01,258.64 L97.38,258.96 L97.74,259.23 L98.10,259.46 L98.46,259.66 L98.83,259.82 L99.19,259.96 L99.55,260.07 L99.91,260.15 L100.28,260.22 L100.64,260.27 L101.00,260.30" fill="none" stroke="#cb2840" stroke-width="0.95" stroke-linejoin="round"/>
<rect x="51.80" y="175.70" width="84.70" height="85.10" fill="none" stroke="#111" stroke-width="1.3"/>
<line x1="48.80" y1="179.20" x2="51.80" y2="179.20" stroke="#111" stroke-width="0.8"/>
<line x1="50.10" y1="182.50" x2="51.80" y2="182.50" stroke="#111" stroke-width="0.8"/>
<line x1="50.10" y1="185.80" x2="51.80" y2="185.80" stroke="#111" stroke-width="0.8"/>
<line x1="50.10" y1="189.10" x2="51.80" y2="189.10" stroke="#111" stroke-width="0.8"/>
<line x1="50.10" y1="192.40" x2="51.80" y2="192.40" stroke="#111" stroke-width="0.8"/>
<line x1="48.80" y1="195.70" x2="51.80" y2="195.70" stroke="#111" stroke-width="0.8"/>
<line x1="50.10" y1="199.00" x2="51.80" y2="199.00" stroke="#111" stroke-width="0.8"/>
<line x1="50.10" y1="202.30" x2="51.80" y2="202.30" stroke="#111" stroke-width="0.8"/>
<line x1="50.10" y1="205.60" x2="51.80" y2="205.60" stroke="#111" stroke-width="0.8"/>
<line x1="50.10" y1="208.90" x2="51.80" y2="208.90" stroke="#111" stroke-width="0.8"/>
<line x1="48.80" y1="212.20" x2="51.80" y2="212.20" stroke="#111" stroke-width="0.8"/>
<line x1="50.10" y1="215.50" x2="51.80" y2="215.50" stroke="#111" stroke-width="0.8"/>
<line x1="50.10" y1="218.80" x2="51.80" y2="218.80" stroke="#111" stroke-width="0.8"/>
<line x1="50.10" y1="222.10" x2="51.80" y2="222.10" stroke="#111" stroke-width="0.8"/>
<line x1="50.10" y1="225.40" x2="51.80" y2="225.40" stroke="#111" stroke-width="0.8"/>
<line x1="48.80" y1="228.70" x2="51.80" y2="228.70" stroke="#111" stroke-width="0.8"/>
<line x1="50.10" y1="232.00" x2="51.80" y2="232.00" stroke="#111" stroke-width="0.8"/>
<line x1="50.10" y1="235.30" x2="51.80" y2="235.30" stroke="#111" stroke-width="0.8"/>
<line x1="50.10" y1="238.60" x2="51.80" y2="238.60" stroke="#111" stroke-width="0.8"/>
<line x1="50.10" y1="241.90" x2="51.80" y2="241.90" stroke="#111" stroke-width="0.8"/>
<line x1="48.80" y1="245.20" x2="51.80" y2="245.20" stroke="#111" stroke-width="0.8"/>
<line x1="50.10" y1="248.50" x2="51.80" y2="248.50" stroke="#111" stroke-width="0.8"/>
<line x1="50.10" y1="251.80" x2="51.80" y2="251.80" stroke="#111" stroke-width="0.8"/>
<line x1="50.10" y1="255.10" x2="51.80" y2="255.10" stroke="#111" stroke-width="0.8"/>
<line x1="50.10" y1="258.40" x2="51.80" y2="258.40" stroke="#111" stroke-width="0.8"/>
<line x1="58.58" y1="260.80" x2="58.58" y2="263.60" stroke="#111" stroke-width="0.7"/>
<line x1="64.76" y1="260.80" x2="64.76" y2="262.50" stroke="#111" stroke-width="0.7"/>
<line x1="68.38" y1="260.80" x2="68.38" y2="262.50" stroke="#111" stroke-width="0.7"/>
<line x1="70.94" y1="260.80" x2="70.94" y2="262.50" stroke="#111" stroke-width="0.7"/>
<line x1="72.93" y1="260.80" x2="72.93" y2="262.50" stroke="#111" stroke-width="0.7"/>
<line x1="74.56" y1="260.80" x2="74.56" y2="262.50" stroke="#111" stroke-width="0.7"/>
<line x1="75.93" y1="260.80" x2="75.93" y2="262.50" stroke="#111" stroke-width="0.7"/>
<line x1="77.13" y1="260.80" x2="77.13" y2="262.50" stroke="#111" stroke-width="0.7"/>
<line x1="78.18" y1="260.80" x2="78.18" y2="262.50" stroke="#111" stroke-width="0.7"/>
<line x1="79.12" y1="260.80" x2="79.12" y2="263.60" stroke="#111" stroke-width="0.7"/>
<line x1="85.30" y1="260.80" x2="85.30" y2="262.50" stroke="#111" stroke-width="0.7"/>
<line x1="88.92" y1="260.80" x2="88.92" y2="262.50" stroke="#111" stroke-width="0.7"/>
<line x1="91.48" y1="260.80" x2="91.48" y2="262.50" stroke="#111" stroke-width="0.7"/>
<line x1="93.47" y1="260.80" x2="93.47" y2="262.50" stroke="#111" stroke-width="0.7"/>
<line x1="95.10" y1="260.80" x2="95.10" y2="262.50" stroke="#111" stroke-width="0.7"/>
<line x1="96.47" y1="260.80" x2="96.47" y2="262.50" stroke="#111" stroke-width="0.7"/>
<line x1="97.66" y1="260.80" x2="97.66" y2="262.50" stroke="#111" stroke-width="0.7"/>
<line x1="98.72" y1="260.80" x2="98.72" y2="262.50" stroke="#111" stroke-width="0.7"/>
<line x1="99.66" y1="260.80" x2="99.66" y2="263.60" stroke="#111" stroke-width="0.7"/>
<line x1="105.84" y1="260.80" x2="105.84" y2="262.50" stroke="#111" stroke-width="0.7"/>
<line x1="109.46" y1="260.80" x2="109.46" y2="262.50" stroke="#111" stroke-width="0.7"/>
<line x1="112.02" y1="260.80" x2="112.02" y2="262.50" stroke="#111" stroke-width="0.7"/>
<line x1="114.01" y1="260.80" x2="114.01" y2="262.50" stroke="#111" stroke-width="0.7"/>
<line x1="115.64" y1="260.80" x2="115.64" y2="262.50" stroke="#111" stroke-width="0.7"/>
<line x1="117.01" y1="260.80" x2="117.01" y2="262.50" stroke="#111" stroke-width="0.7"/>
<line x1="118.20" y1="260.80" x2="118.20" y2="262.50" stroke="#111" stroke-width="0.7"/>
<line x1="119.26" y1="260.80" x2="119.26" y2="262.50" stroke="#111" stroke-width="0.7"/>
<line x1="120.20" y1="260.80" x2="120.20" y2="263.60" stroke="#111" stroke-width="0.7"/>
<line x1="126.38" y1="260.80" x2="126.38" y2="262.50" stroke="#111" stroke-width="0.7"/>
<line x1="130.00" y1="260.80" x2="130.00" y2="262.50" stroke="#111" stroke-width="0.7"/>
<line x1="132.56" y1="260.80" x2="132.56" y2="262.50" stroke="#111" stroke-width="0.7"/>
<line x1="134.55" y1="260.80" x2="134.55" y2="262.50" stroke="#111" stroke-width="0.7"/>
<path d="M54.80,260.20 L55.70,259.71 L56.60,259.86 L57.50,259.81 L58.40,259.97 L59.30,259.81 L60.20,259.15 L61.10,258.65 L62.00,259.37 L62.90,259.18 L63.80,259.02 L64.70,259.70 L65.60,258.78 L66.50,259.78 L67.40,259.60 L68.30,259.26 L69.20,260.05 L70.10,259.94 L71.00,259.83 L71.90,260.17 L72.80,260.17 L73.70,259.84" fill="none" stroke="#222" stroke-width="0.7"/>
<line x1="45.00" y1="259.80" x2="45.00" y2="178.70" stroke="#111" stroke-width="1.2"/>
<path d="M45.00,176.20 l2.4,4.8 h-4.8 z" fill="#111"/>
<line x1="52.80" y1="266.60" x2="132.50" y2="266.60" stroke="#111" stroke-width="1.2"/>
<path d="M136.00,266.60 l-4.8,-2.4 v4.8 z" fill="#111"/>
<text transform="translate(94.00,169.20)" font-size="9.35" text-anchor="middle" fill="#231f20" stroke="#231f20" stroke-width="0.12">LT-HSC</text>
<text transform="translate(94.00,277.40) scale(0.76,1)" font-size="9.0" text-anchor="middle" fill="#231f20" style="stroke-width:0.38" stroke="#231f20" stroke-width="0.22">p-AKT</text>
<text transform="translate(38.20,218.25) rotate(-90) scale(0.8,1)" font-size="8.4" text-anchor="middle" fill="#231f20" stroke="#231f20" stroke-width="0.22">Count</text>
<line x1="55.00" y1="180.80" x2="61.60" y2="180.80" stroke="#4fb04c" stroke-width="1.0"/>
<text transform="translate(64.00,183.40)" font-size="7.6" text-anchor="start" fill="#231f20" stroke="#231f20" stroke-width="0.12">ISO</text>
<line x1="79.50" y1="180.80" x2="86.00" y2="180.80" stroke="#cb2840" stroke-width="1.0"/>
<text transform="translate(87.80,183.40)" font-size="7.6" text-anchor="start" fill="#231f20" stroke="#231f20" stroke-width="0.12">WT + IR</text>
<line x1="79.50" y1="189.70" x2="86.00" y2="189.70" stroke="#245a99" stroke-width="1.0"/>
<text transform="translate(87.80,192.30)" font-size="7.6" text-anchor="start" fill="#231f20" stroke="#231f20" stroke-width="0.12">MC5R<tspan font-size="5.02" dy="-2.74" dx="0.3" letter-spacing="0.25">−/−</tspan><tspan dy="2.74" dx="0.1"> + IR</tspan></text>
<rect x="187.30" y="212.51" width="8.20" height="52.69" fill="#c8102e"/>
<rect x="199.30" y="234.76" width="8.20" height="30.44" fill="#1c4e80"/>
<rect x="217.80" y="217.09" width="8.20" height="48.11" fill="#c8102e"/>
<rect x="229.60" y="237.45" width="8.20" height="27.75" fill="#1c4e80"/>
<line x1="191.40" y1="209.28" x2="191.40" y2="215.74" stroke="#231f20" stroke-width="0.6"/>
<line x1="189.80" y1="209.28" x2="193.00" y2="209.28" stroke="#231f20" stroke-width="0.6"/>
<line x1="189.80" y1="215.74" x2="193.00" y2="215.74" stroke="#231f20" stroke-width="0.6"/>
<circle cx="190.50" cy="207.76" r="1.42" fill="none" stroke="#1a1a1a" stroke-width="0.72"/>
<circle cx="193.60" cy="206.75" r="1.42" fill="none" stroke="#1a1a1a" stroke-width="0.72"/>
<circle cx="189.30" cy="210.29" r="1.42" fill="none" stroke="#1a1a1a" stroke-width="0.72"/>
<circle cx="191.10" cy="215.24" r="1.42" fill="none" stroke="#1a1a1a" stroke-width="0.72"/>
<circle cx="191.20" cy="220.09" r="1.42" fill="none" stroke="#1a1a1a" stroke-width="0.72"/>
<line x1="203.40" y1="232.07" x2="203.40" y2="237.45" stroke="#231f20" stroke-width="0.6"/>
<line x1="201.80" y1="232.07" x2="205.00" y2="232.07" stroke="#231f20" stroke-width="0.6"/>
<line x1="201.80" y1="237.45" x2="205.00" y2="237.45" stroke="#231f20" stroke-width="0.6"/>
<path d="M203.00,227.37 l1.55,2.7 h-3.1 z" fill="rgba(20,20,20,0.3)" stroke="#1a1a1a" stroke-width="0.7"/>
<path d="M201.50,230.23 l1.55,2.7 h-3.1 z" fill="rgba(20,20,20,0.3)" stroke="#1a1a1a" stroke-width="0.7"/>
<path d="M204.30,230.57 l1.55,2.7 h-3.1 z" fill="rgba(20,20,20,0.3)" stroke="#1a1a1a" stroke-width="0.7"/>
<path d="M202.80,235.95 l1.55,2.7 h-3.1 z" fill="rgba(20,20,20,0.3)" stroke="#1a1a1a" stroke-width="0.7"/>
<path d="M203.40,238.73 l1.55,2.7 h-3.1 z" fill="rgba(20,20,20,0.3)" stroke="#1a1a1a" stroke-width="0.7"/>
<line x1="221.90" y1="213.86" x2="221.90" y2="220.32" stroke="#231f20" stroke-width="0.6"/>
<line x1="220.30" y1="213.86" x2="223.50" y2="213.86" stroke="#231f20" stroke-width="0.6"/>
<line x1="220.30" y1="220.32" x2="223.50" y2="220.32" stroke="#231f20" stroke-width="0.6"/>
<circle cx="221.30" cy="211.43" r="1.42" fill="none" stroke="#1a1a1a" stroke-width="0.72"/>
<circle cx="220.60" cy="215.88" r="1.42" fill="none" stroke="#1a1a1a" stroke-width="0.72"/>
<circle cx="223.20" cy="217.09" r="1.42" fill="none" stroke="#1a1a1a" stroke-width="0.72"/>
<circle cx="221.40" cy="220.42" r="1.42" fill="none" stroke="#1a1a1a" stroke-width="0.72"/>
<circle cx="222.40" cy="223.15" r="1.42" fill="none" stroke="#1a1a1a" stroke-width="0.72"/>
<line x1="233.70" y1="235.03" x2="233.70" y2="239.88" stroke="#231f20" stroke-width="0.6"/>
<line x1="232.10" y1="235.03" x2="235.30" y2="235.03" stroke="#231f20" stroke-width="0.6"/>
<line x1="232.10" y1="239.88" x2="235.30" y2="239.88" stroke="#231f20" stroke-width="0.6"/>
<path d="M233.70,231.41 l1.55,2.7 h-3.1 z" fill="rgba(20,20,20,0.3)" stroke="#1a1a1a" stroke-width="0.7"/>
<path d="M232.70,236.86 l1.55,2.7 h-3.1 z" fill="rgba(20,20,20,0.3)" stroke="#1a1a1a" stroke-width="0.7"/>
<path d="M235.20,236.86 l1.55,2.7 h-3.1 z" fill="rgba(20,20,20,0.3)" stroke="#1a1a1a" stroke-width="0.7"/>
<path d="M233.70,238.98 l1.55,2.7 h-3.1 z" fill="rgba(20,20,20,0.3)" stroke="#1a1a1a" stroke-width="0.7"/>
<path d="M232.90,234.06 l1.55,2.7 h-3.1 z" fill="rgba(20,20,20,0.3)" stroke="#1a1a1a" stroke-width="0.7"/>
<line x1="184.30" y1="177.50" x2="184.30" y2="265.80" stroke="#111" stroke-width="1.25"/>
<line x1="183.70" y1="265.20" x2="243.00" y2="265.20" stroke="#111" stroke-width="1.25"/>
<line x1="181.30" y1="265.20" x2="184.30" y2="265.20" stroke="#111" stroke-width="1.0"/>
<text transform="translate(177.30,268.10)" font-size="8.3" text-anchor="end" fill="#231f20" stroke="#231f20" stroke-width="0.12">0</text>
<line x1="181.30" y1="243.65" x2="184.30" y2="243.65" stroke="#111" stroke-width="1.0"/>
<text transform="translate(177.30,246.55)" font-size="8.3" text-anchor="end" fill="#231f20" stroke="#231f20" stroke-width="0.12">400</text>
<line x1="181.30" y1="222.10" x2="184.30" y2="222.10" stroke="#111" stroke-width="1.0"/>
<text transform="translate(177.30,225.00)" font-size="8.3" text-anchor="end" fill="#231f20" stroke="#231f20" stroke-width="0.12">800</text>
<line x1="181.30" y1="200.55" x2="184.30" y2="200.55" stroke="#111" stroke-width="1.0"/>
<text transform="translate(177.30,203.45)" font-size="8.3" text-anchor="end" fill="#231f20" stroke="#231f20" stroke-width="0.12">1200</text>
<line x1="181.30" y1="179.00" x2="184.30" y2="179.00" stroke="#111" stroke-width="1.0"/>
<text transform="translate(177.30,181.90)" font-size="8.3" text-anchor="end" fill="#231f20" stroke="#231f20" stroke-width="0.12">1600</text>
<line x1="197.40" y1="265.20" x2="197.40" y2="268.20" stroke="#111" stroke-width="1.0"/>
<line x1="227.80" y1="265.20" x2="227.80" y2="268.20" stroke="#111" stroke-width="1.0"/>
<text transform="translate(197.40,279.00)" font-size="7.7" text-anchor="middle" fill="#231f20" stroke="#231f20" stroke-width="0.12">LSK</text>
<text transform="translate(227.50,279.00)" font-size="7.7" text-anchor="middle" fill="#231f20" stroke="#231f20" stroke-width="0.12">LT-HSC</text>
<text transform="translate(212.20,170.00)" font-size="9.2" text-anchor="middle" fill="#231f20" stroke="#231f20" stroke-width="0.12">p-AKT</text>
<text transform="translate(152.10,220.80) rotate(-90) scale(0.655,1)" font-size="10.2" text-anchor="middle" fill="#231f20" style="stroke-width:0.42" stroke="#231f20" stroke-width="0.22">MFI</text>
<rect x="186.90" y="177.60" width="4.90" height="4.50" fill="#c8102e"/>
<text transform="translate(194.30,182.30)" font-size="7.6" text-anchor="start" fill="#231f20" stroke="#231f20" stroke-width="0.12">WT + IR</text>
<rect x="186.90" y="185.50" width="4.90" height="4.50" fill="#1c4e80"/>
<text transform="translate(194.30,190.20)" font-size="7.6" text-anchor="start" fill="#231f20" stroke="#231f20" stroke-width="0.12">MC5R<tspan font-size="5.02" dy="-2.74" dx="0.3" letter-spacing="0.25">−/−</tspan><tspan dy="2.74" dx="0.1"> + IR</tspan></text>
<text transform="translate(203.30,225.60)" font-size="8" text-anchor="middle" font-weight="bold" fill="#231f20">***</text>
<text transform="translate(233.60,228.60)" font-size="8" text-anchor="middle" font-weight="bold" fill="#231f20">***</text>
<path d="M307.00,260.33 L307.45,260.29 L307.90,260.23 L308.35,260.15 L308.80,260.03 L309.25,259.86 L309.70,259.62 L310.15,259.32 L310.60,258.92 L311.05,258.42 L311.50,257.80 L311.95,257.05 L312.40,256.15 L312.85,255.09 L313.30,253.86 L313.75,252.44 L314.20,250.80 L314.65,248.92 L315.10,246.75 L315.55,244.25 L316.00,241.38 L316.45,238.12 L316.90,234.45 L317.35,230.43 L317.80,226.13 L318.25,221.71 L318.70,217.38 L319.15,213.37 L319.60,209.95 L320.05,207.38 L320.50,205.88 L320.95,205.60 L321.40,206.51 L321.85,208.47 L322.30,211.36 L322.75,215.01 L323.20,219.20 L323.65,223.70 L324.10,228.29 L324.55,232.74 L325.00,236.89 L325.45,240.62 L325.90,243.86 L326.35,246.59 L326.80,248.83 L327.25,250.60 L327.70,251.99 L328.15,253.05 L328.60,253.86 L329.05,254.49 L329.50,254.97 L329.95,255.37 L330.40,255.71 L330.85,256.02 L331.30,256.31 L331.75,256.60 L332.20,256.88 L332.65,257.16 L333.10,257.44 L333.55,257.71 L334.00,257.98 L334.45,258.24 L334.90,258.48 L335.35,258.71 L335.80,258.93 L336.25,259.13 L336.70,259.31 L337.15,259.47 L337.60,259.61 L338.05,259.74 L338.50,259.85 L338.95,259.95 L339.40,260.03 L339.85,260.10 L340.30,260.16 L340.75,260.21 L341.20,260.25 L341.65,260.28 L342.10,260.31 L342.55,260.33 L343.00,260.34" fill="none" stroke="#4fb04c" stroke-width="0.95" stroke-linejoin="round"/>
<path d="M316.00,260.33 L316.46,260.30 L316.93,260.26 L317.39,260.20 L317.85,260.13 L318.31,260.03 L318.77,259.90 L319.24,259.75 L319.70,259.55 L320.16,259.32 L320.62,259.04 L321.09,258.72 L321.55,258.34 L322.01,257.92 L322.48,257.45 L322.94,256.94 L323.40,256.39 L323.86,255.79 L324.32,255.17 L324.79,254.51 L325.25,253.83 L325.71,253.12 L326.18,252.39 L326.64,251.64 L327.10,250.87 L327.56,250.08 L328.02,249.29 L328.49,248.49 L328.95,247.70 L329.41,246.92 L329.88,246.18 L330.34,245.46 L330.80,244.80 L331.26,244.17 L331.73,243.57 L332.19,242.97 L332.65,242.32 L333.11,241.53 L333.57,240.52 L334.04,239.17 L334.50,237.37 L334.96,235.01 L335.43,232.02 L335.89,228.41 L336.35,224.24 L336.81,219.69 L337.27,215.02 L337.74,210.58 L338.20,206.74 L338.66,203.88 L339.12,202.33 L339.59,202.30 L340.05,204.08 L340.51,207.79 L340.98,213.08 L341.44,219.45 L341.90,226.30 L342.36,233.10 L342.82,239.38 L343.29,244.83 L343.75,249.31 L344.21,252.80 L344.68,255.38 L345.14,257.21 L345.60,258.44 L346.06,259.24 L346.52,259.74 L346.99,260.03 L347.45,260.20 L347.91,260.29 L348.38,260.34 L348.84,260.37 L349.30,260.38 L349.76,260.39 L350.23,260.40 L350.69,260.40 L351.15,260.40 L351.61,260.40 L352.07,260.40 L352.54,260.40 L353.00,260.40" fill="none" stroke="#245a99" stroke-width="0.95" stroke-linejoin="round"/>
<path d="M322.00,260.31 L322.45,260.28 L322.90,260.24 L323.35,260.20 L323.80,260.14 L324.25,260.08 L324.70,260.00 L325.15,259.90 L325.60,259.78 L326.05,259.64 L326.50,259.48 L326.95,259.30 L327.40,259.08 L327.85,258.84 L328.30,258.57 L328.75,258.26 L329.20,257.93 L329.65,257.57 L330.10,257.18 L330.55,256.77 L331.00,256.34 L331.45,255.89 L331.90,255.43 L332.35,254.97 L332.80,254.50 L333.25,254.02 L333.70,253.55 L334.15,253.07 L334.60,252.57 L335.05,252.03 L335.50,251.43 L335.95,250.74 L336.40,249.89 L336.85,248.83 L337.30,247.50 L337.75,245.83 L338.20,243.74 L338.65,241.19 L339.10,238.15 L339.55,234.61 L340.00,230.62 L340.45,226.27 L340.90,221.70 L341.35,217.11 L341.80,212.71 L342.25,208.76 L342.70,205.50 L343.15,203.15 L343.60,201.88 L344.05,201.80 L344.50,202.89 L344.95,205.07 L345.40,208.23 L345.85,212.19 L346.30,216.76 L346.75,221.69 L347.20,226.77 L347.65,231.78 L348.10,236.54 L348.55,240.91 L349.00,244.81 L349.45,248.19 L349.90,251.02 L350.35,253.35 L350.80,255.21 L351.25,256.65 L351.70,257.75 L352.15,258.56 L352.60,259.15 L353.05,259.57 L353.50,259.86 L353.95,260.05 L354.40,260.18 L354.85,260.26 L355.30,260.32 L355.75,260.35 L356.20,260.37 L356.65,260.38 L357.10,260.39 L357.55,260.39 L358.00,260.40" fill="none" stroke="#cb2840" stroke-width="0.95" stroke-linejoin="round"/>
<rect x="304.30" y="175.70" width="84.60" height="85.10" fill="none" stroke="#111" stroke-width="1.3"/>
<line x1="301.30" y1="179.20" x2="304.30" y2="179.20" stroke="#111" stroke-width="0.8"/>
<line x1="302.60" y1="182.50" x2="304.30" y2="182.50" stroke="#111" stroke-width="0.8"/>
<line x1="302.60" y1="185.80" x2="304.30" y2="185.80" stroke="#111" stroke-width="0.8"/>
<line x1="302.60" y1="189.10" x2="304.30" y2="189.10" stroke="#111" stroke-width="0.8"/>
<line x1="302.60" y1="192.40" x2="304.30" y2="192.40" stroke="#111" stroke-width="0.8"/>
<line x1="301.30" y1="195.70" x2="304.30" y2="195.70" stroke="#111" stroke-width="0.8"/>
<line x1="302.60" y1="199.00" x2="304.30" y2="199.00" stroke="#111" stroke-width="0.8"/>
<line x1="302.60" y1="202.30" x2="304.30" y2="202.30" stroke="#111" stroke-width="0.8"/>
<line x1="302.60" y1="205.60" x2="304.30" y2="205.60" stroke="#111" stroke-width="0.8"/>
<line x1="302.60" y1="208.90" x2="304.30" y2="208.90" stroke="#111" stroke-width="0.8"/>
<line x1="301.30" y1="212.20" x2="304.30" y2="212.20" stroke="#111" stroke-width="0.8"/>
<line x1="302.60" y1="215.50" x2="304.30" y2="215.50" stroke="#111" stroke-width="0.8"/>
<line x1="302.60" y1="218.80" x2="304.30" y2="218.80" stroke="#111" stroke-width="0.8"/>
<line x1="302.60" y1="222.10" x2="304.30" y2="222.10" stroke="#111" stroke-width="0.8"/>
<line x1="302.60" y1="225.40" x2="304.30" y2="225.40" stroke="#111" stroke-width="0.8"/>
<line x1="301.30" y1="228.70" x2="304.30" y2="228.70" stroke="#111" stroke-width="0.8"/>
<line x1="302.60" y1="232.00" x2="304.30" y2="232.00" stroke="#111" stroke-width="0.8"/>
<line x1="302.60" y1="235.30" x2="304.30" y2="235.30" stroke="#111" stroke-width="0.8"/>
<line x1="302.60" y1="238.60" x2="304.30" y2="238.60" stroke="#111" stroke-width="0.8"/>
<line x1="302.60" y1="241.90" x2="304.30" y2="241.90" stroke="#111" stroke-width="0.8"/>
<line x1="301.30" y1="245.20" x2="304.30" y2="245.20" stroke="#111" stroke-width="0.8"/>
<line x1="302.60" y1="248.50" x2="304.30" y2="248.50" stroke="#111" stroke-width="0.8"/>
<line x1="302.60" y1="251.80" x2="304.30" y2="251.80" stroke="#111" stroke-width="0.8"/>
<line x1="302.60" y1="255.10" x2="304.30" y2="255.10" stroke="#111" stroke-width="0.8"/>
<line x1="302.60" y1="258.40" x2="304.30" y2="258.40" stroke="#111" stroke-width="0.8"/>
<line x1="311.07" y1="260.80" x2="311.07" y2="263.60" stroke="#111" stroke-width="0.7"/>
<line x1="317.24" y1="260.80" x2="317.24" y2="262.50" stroke="#111" stroke-width="0.7"/>
<line x1="320.86" y1="260.80" x2="320.86" y2="262.50" stroke="#111" stroke-width="0.7"/>
<line x1="323.42" y1="260.80" x2="323.42" y2="262.50" stroke="#111" stroke-width="0.7"/>
<line x1="325.41" y1="260.80" x2="325.41" y2="262.50" stroke="#111" stroke-width="0.7"/>
<line x1="327.03" y1="260.80" x2="327.03" y2="262.50" stroke="#111" stroke-width="0.7"/>
<line x1="328.41" y1="260.80" x2="328.41" y2="262.50" stroke="#111" stroke-width="0.7"/>
<line x1="329.60" y1="260.80" x2="329.60" y2="262.50" stroke="#111" stroke-width="0.7"/>
<line x1="330.64" y1="260.80" x2="330.64" y2="262.50" stroke="#111" stroke-width="0.7"/>
<line x1="331.58" y1="260.80" x2="331.58" y2="263.60" stroke="#111" stroke-width="0.7"/>
<line x1="337.76" y1="260.80" x2="337.76" y2="262.50" stroke="#111" stroke-width="0.7"/>
<line x1="341.37" y1="260.80" x2="341.37" y2="262.50" stroke="#111" stroke-width="0.7"/>
<line x1="343.94" y1="260.80" x2="343.94" y2="262.50" stroke="#111" stroke-width="0.7"/>
<line x1="345.92" y1="260.80" x2="345.92" y2="262.50" stroke="#111" stroke-width="0.7"/>
<line x1="347.55" y1="260.80" x2="347.55" y2="262.50" stroke="#111" stroke-width="0.7"/>
<line x1="348.92" y1="260.80" x2="348.92" y2="262.50" stroke="#111" stroke-width="0.7"/>
<line x1="350.11" y1="260.80" x2="350.11" y2="262.50" stroke="#111" stroke-width="0.7"/>
<line x1="351.16" y1="260.80" x2="351.16" y2="262.50" stroke="#111" stroke-width="0.7"/>
<line x1="352.10" y1="260.80" x2="352.10" y2="263.60" stroke="#111" stroke-width="0.7"/>
<line x1="358.27" y1="260.80" x2="358.27" y2="262.50" stroke="#111" stroke-width="0.7"/>
<line x1="361.89" y1="260.80" x2="361.89" y2="262.50" stroke="#111" stroke-width="0.7"/>
<line x1="364.45" y1="260.80" x2="364.45" y2="262.50" stroke="#111" stroke-width="0.7"/>
<line x1="366.44" y1="260.80" x2="366.44" y2="262.50" stroke="#111" stroke-width="0.7"/>
<line x1="368.06" y1="260.80" x2="368.06" y2="262.50" stroke="#111" stroke-width="0.7"/>
<line x1="369.44" y1="260.80" x2="369.44" y2="262.50" stroke="#111" stroke-width="0.7"/>
<line x1="370.63" y1="260.80" x2="370.63" y2="262.50" stroke="#111" stroke-width="0.7"/>
<line x1="371.68" y1="260.80" x2="371.68" y2="262.50" stroke="#111" stroke-width="0.7"/>
<line x1="372.61" y1="260.80" x2="372.61" y2="263.60" stroke="#111" stroke-width="0.7"/>
<line x1="378.79" y1="260.80" x2="378.79" y2="262.50" stroke="#111" stroke-width="0.7"/>
<line x1="382.40" y1="260.80" x2="382.40" y2="262.50" stroke="#111" stroke-width="0.7"/>
<line x1="384.97" y1="260.80" x2="384.97" y2="262.50" stroke="#111" stroke-width="0.7"/>
<line x1="386.95" y1="260.80" x2="386.95" y2="262.50" stroke="#111" stroke-width="0.7"/>
<path d="M307.30,260.20 L308.20,260.06 L309.10,260.01 L310.00,260.19 L310.90,259.93 L311.80,259.06 L312.70,259.18 L313.60,258.84 L314.50,259.74 L315.40,259.04 L316.30,259.95 L317.20,259.77 L318.10,259.11 L319.00,258.79 L319.90,260.20 L320.80,258.91 L321.70,259.62 L322.60,259.62 L323.50,259.56 L324.40,259.71 L325.30,260.19 L326.20,259.99" fill="none" stroke="#222" stroke-width="0.7"/>
<line x1="298.10" y1="259.80" x2="298.10" y2="178.70" stroke="#111" stroke-width="1.2"/>
<path d="M298.10,176.20 l2.4,4.8 h-4.8 z" fill="#111"/>
<line x1="305.30" y1="266.90" x2="384.90" y2="266.90" stroke="#111" stroke-width="1.2"/>
<path d="M388.40,266.90 l-4.8,-2.4 v4.8 z" fill="#111"/>
<text transform="translate(347.80,169.20)" font-size="9.35" text-anchor="middle" fill="#231f20" stroke="#231f20" stroke-width="0.12">LT-HSC</text>
<text transform="translate(347.80,277.40) scale(0.76,1)" font-size="9.0" text-anchor="middle" fill="#231f20" style="stroke-width:0.38" stroke="#231f20" stroke-width="0.22">p-ERK1/2</text>
<text transform="translate(291.60,218.25) rotate(-90) scale(0.8,1)" font-size="8.4" text-anchor="middle" fill="#231f20" stroke="#231f20" stroke-width="0.22">Count</text>
<line x1="309.00" y1="180.20" x2="315.60" y2="180.20" stroke="#4fb04c" stroke-width="1.0"/>
<text transform="translate(317.80,182.80)" font-size="7.6" text-anchor="start" fill="#231f20" stroke="#231f20" stroke-width="0.12">ISO</text>
<line x1="333.30" y1="180.20" x2="340.00" y2="180.20" stroke="#cb2840" stroke-width="1.0"/>
<text transform="translate(342.00,182.80)" font-size="7.6" text-anchor="start" fill="#231f20" stroke="#231f20" stroke-width="0.12">WT + IR</text>
<line x1="333.30" y1="189.50" x2="340.00" y2="189.50" stroke="#245a99" stroke-width="1.0"/>
<text transform="translate(342.00,192.10)" font-size="7.6" text-anchor="start" fill="#231f20" stroke="#231f20" stroke-width="0.12">MC5R<tspan font-size="5.02" dy="-2.74" dx="0.3" letter-spacing="0.25">−/−</tspan><tspan dy="2.74" dx="0.1"> + IR</tspan></text>
<rect x="437.70" y="206.79" width="8.20" height="57.91" fill="#c8102e"/>
<rect x="449.60" y="228.35" width="8.20" height="36.35" fill="#1c4e80"/>
<rect x="468.90" y="212.07" width="8.20" height="52.63" fill="#c8102e"/>
<rect x="480.40" y="233.40" width="8.20" height="31.30" fill="#1c4e80"/>
<line x1="441.80" y1="203.93" x2="441.80" y2="209.66" stroke="#231f20" stroke-width="0.6"/>
<line x1="440.20" y1="203.93" x2="443.40" y2="203.93" stroke="#231f20" stroke-width="0.6"/>
<line x1="440.20" y1="209.66" x2="443.40" y2="209.66" stroke="#231f20" stroke-width="0.6"/>
<circle cx="440.90" cy="202.58" r="1.42" fill="none" stroke="#1a1a1a" stroke-width="0.72"/>
<circle cx="444.00" cy="201.69" r="1.42" fill="none" stroke="#1a1a1a" stroke-width="0.72"/>
<circle cx="439.70" cy="204.82" r="1.42" fill="none" stroke="#1a1a1a" stroke-width="0.72"/>
<circle cx="441.50" cy="209.21" r="1.42" fill="none" stroke="#1a1a1a" stroke-width="0.72"/>
<circle cx="441.60" cy="213.51" r="1.42" fill="none" stroke="#1a1a1a" stroke-width="0.72"/>
<line x1="453.70" y1="226.06" x2="453.70" y2="230.64" stroke="#231f20" stroke-width="0.6"/>
<line x1="452.10" y1="226.06" x2="455.30" y2="226.06" stroke="#231f20" stroke-width="0.6"/>
<line x1="452.10" y1="230.64" x2="455.30" y2="230.64" stroke="#231f20" stroke-width="0.6"/>
<path d="M453.30,221.83 l1.55,2.7 h-3.1 z" fill="rgba(20,20,20,0.3)" stroke="#1a1a1a" stroke-width="0.7"/>
<path d="M451.80,224.27 l1.55,2.7 h-3.1 z" fill="rgba(20,20,20,0.3)" stroke="#1a1a1a" stroke-width="0.7"/>
<path d="M454.60,224.56 l1.55,2.7 h-3.1 z" fill="rgba(20,20,20,0.3)" stroke="#1a1a1a" stroke-width="0.7"/>
<path d="M453.10,229.14 l1.55,2.7 h-3.1 z" fill="rgba(20,20,20,0.3)" stroke="#1a1a1a" stroke-width="0.7"/>
<path d="M453.70,231.51 l1.55,2.7 h-3.1 z" fill="rgba(20,20,20,0.3)" stroke="#1a1a1a" stroke-width="0.7"/>
<line x1="473.00" y1="209.77" x2="473.00" y2="214.36" stroke="#231f20" stroke-width="0.6"/>
<line x1="471.40" y1="209.77" x2="474.60" y2="209.77" stroke="#231f20" stroke-width="0.6"/>
<line x1="471.40" y1="214.36" x2="474.60" y2="214.36" stroke="#231f20" stroke-width="0.6"/>
<circle cx="472.40" cy="208.05" r="1.42" fill="none" stroke="#1a1a1a" stroke-width="0.72"/>
<circle cx="471.70" cy="211.21" r="1.42" fill="none" stroke="#1a1a1a" stroke-width="0.72"/>
<circle cx="474.30" cy="212.07" r="1.42" fill="none" stroke="#1a1a1a" stroke-width="0.72"/>
<circle cx="472.50" cy="214.43" r="1.42" fill="none" stroke="#1a1a1a" stroke-width="0.72"/>
<circle cx="473.50" cy="216.37" r="1.42" fill="none" stroke="#1a1a1a" stroke-width="0.72"/>
<line x1="484.50" y1="230.53" x2="484.50" y2="236.26" stroke="#231f20" stroke-width="0.6"/>
<line x1="482.90" y1="230.53" x2="486.10" y2="230.53" stroke="#231f20" stroke-width="0.6"/>
<line x1="482.90" y1="236.26" x2="486.10" y2="236.26" stroke="#231f20" stroke-width="0.6"/>
<path d="M484.50,226.52 l1.55,2.7 h-3.1 z" fill="rgba(20,20,20,0.3)" stroke="#1a1a1a" stroke-width="0.7"/>
<path d="M483.50,232.97 l1.55,2.7 h-3.1 z" fill="rgba(20,20,20,0.3)" stroke="#1a1a1a" stroke-width="0.7"/>
<path d="M486.00,232.97 l1.55,2.7 h-3.1 z" fill="rgba(20,20,20,0.3)" stroke="#1a1a1a" stroke-width="0.7"/>
<path d="M484.50,235.48 l1.55,2.7 h-3.1 z" fill="rgba(20,20,20,0.3)" stroke="#1a1a1a" stroke-width="0.7"/>
<path d="M483.70,229.66 l1.55,2.7 h-3.1 z" fill="rgba(20,20,20,0.3)" stroke="#1a1a1a" stroke-width="0.7"/>
<line x1="433.80" y1="177.20" x2="433.80" y2="265.30" stroke="#111" stroke-width="1.25"/>
<line x1="433.20" y1="264.70" x2="492.50" y2="264.70" stroke="#111" stroke-width="1.25"/>
<line x1="430.80" y1="264.70" x2="433.80" y2="264.70" stroke="#111" stroke-width="1.0"/>
<text transform="translate(428.70,267.60)" font-size="8.3" text-anchor="end" fill="#231f20" stroke="#231f20" stroke-width="0.12">0</text>
<line x1="430.80" y1="247.50" x2="433.80" y2="247.50" stroke="#111" stroke-width="1.0"/>
<text transform="translate(428.70,250.40)" font-size="8.3" text-anchor="end" fill="#231f20" stroke="#231f20" stroke-width="0.12">150</text>
<line x1="430.80" y1="230.30" x2="433.80" y2="230.30" stroke="#111" stroke-width="1.0"/>
<text transform="translate(428.70,233.20)" font-size="8.3" text-anchor="end" fill="#231f20" stroke="#231f20" stroke-width="0.12">300</text>
<line x1="430.80" y1="213.10" x2="433.80" y2="213.10" stroke="#111" stroke-width="1.0"/>
<text transform="translate(428.70,216.00)" font-size="8.3" text-anchor="end" fill="#231f20" stroke="#231f20" stroke-width="0.12">450</text>
<line x1="430.80" y1="195.90" x2="433.80" y2="195.90" stroke="#111" stroke-width="1.0"/>
<text transform="translate(428.70,198.80)" font-size="8.3" text-anchor="end" fill="#231f20" stroke="#231f20" stroke-width="0.12">600</text>
<line x1="430.80" y1="178.70" x2="433.80" y2="178.70" stroke="#111" stroke-width="1.0"/>
<text transform="translate(428.70,181.60)" font-size="8.3" text-anchor="end" fill="#231f20" stroke="#231f20" stroke-width="0.12">750</text>
<line x1="447.75" y1="264.70" x2="447.75" y2="267.70" stroke="#111" stroke-width="1.0"/>
<line x1="478.75" y1="264.70" x2="478.75" y2="267.70" stroke="#111" stroke-width="1.0"/>
<text transform="translate(448.70,278.20)" font-size="7.7" text-anchor="middle" fill="#231f20" stroke="#231f20" stroke-width="0.12">LSK</text>
<text transform="translate(478.80,278.20)" font-size="7.7" text-anchor="middle" fill="#231f20" stroke="#231f20" stroke-width="0.12">LT-HSC</text>
<text transform="translate(462.50,170.00)" font-size="9.2" text-anchor="middle" fill="#231f20" stroke="#231f20" stroke-width="0.12">p-ERK1/2</text>
<text transform="translate(407.90,220.40) rotate(-90) scale(0.655,1)" font-size="10.2" text-anchor="middle" fill="#231f20" style="stroke-width:0.42" stroke="#231f20" stroke-width="0.22">MFI</text>
<rect x="436.70" y="176.20" width="4.90" height="4.50" fill="#c8102e"/>
<text transform="translate(444.80,180.90)" font-size="7.6" text-anchor="start" fill="#231f20" stroke="#231f20" stroke-width="0.12">WT + IR</text>
<rect x="436.70" y="184.10" width="4.90" height="4.50" fill="#1c4e80"/>
<text transform="translate(444.80,188.80)" font-size="7.6" text-anchor="start" fill="#231f20" stroke="#231f20" stroke-width="0.12">MC5R<tspan font-size="5.02" dy="-2.74" dx="0.3" letter-spacing="0.25">−/−</tspan><tspan dy="2.74" dx="0.1"> + IR</tspan></text>
<text transform="translate(453.60,219.50)" font-size="8" text-anchor="middle" font-weight="bold" fill="#231f20">***</text>
<text transform="translate(484.00,223.60)" font-size="8" text-anchor="middle" font-weight="bold" fill="#231f20">***</text>
<rect x="55.95" y="344.88" width="6.75" height="48.32" fill="#c8102e"/>
<rect x="66.05" y="348.19" width="6.75" height="45.01" fill="#1c4e80"/>
<rect x="83.05" y="345.61" width="6.75" height="47.59" fill="#c8102e"/>
<rect x="93.35" y="350.47" width="6.75" height="42.73" fill="#1c4e80"/>
<line x1="59.33" y1="340.74" x2="59.33" y2="349.02" stroke="#231f20" stroke-width="0.6"/>
<line x1="57.73" y1="340.74" x2="60.93" y2="340.74" stroke="#231f20" stroke-width="0.6"/>
<line x1="57.73" y1="349.02" x2="60.93" y2="349.02" stroke="#231f20" stroke-width="0.6"/>
<circle cx="58.43" cy="339.24" r="1.42" fill="none" stroke="#1a1a1a" stroke-width="0.72"/>
<circle cx="61.53" cy="338.04" r="1.42" fill="none" stroke="#1a1a1a" stroke-width="0.72"/>
<circle cx="57.23" cy="342.24" r="1.42" fill="none" stroke="#1a1a1a" stroke-width="0.72"/>
<circle cx="59.03" cy="348.12" r="1.42" fill="none" stroke="#1a1a1a" stroke-width="0.72"/>
<circle cx="59.12" cy="353.88" r="1.42" fill="none" stroke="#1a1a1a" stroke-width="0.72"/>
<line x1="69.42" y1="345.09" x2="69.42" y2="351.30" stroke="#231f20" stroke-width="0.6"/>
<line x1="67.83" y1="345.09" x2="71.02" y2="345.09" stroke="#231f20" stroke-width="0.6"/>
<line x1="67.83" y1="351.30" x2="71.02" y2="351.30" stroke="#231f20" stroke-width="0.6"/>
<path d="M69.02,339.90 l1.55,2.7 h-3.1 z" fill="rgba(20,20,20,0.3)" stroke="#1a1a1a" stroke-width="0.7"/>
<path d="M67.52,343.20 l1.55,2.7 h-3.1 z" fill="rgba(20,20,20,0.3)" stroke="#1a1a1a" stroke-width="0.7"/>
<path d="M70.33,343.59 l1.55,2.7 h-3.1 z" fill="rgba(20,20,20,0.3)" stroke="#1a1a1a" stroke-width="0.7"/>
<path d="M68.83,349.80 l1.55,2.7 h-3.1 z" fill="rgba(20,20,20,0.3)" stroke="#1a1a1a" stroke-width="0.7"/>
<path d="M69.42,353.00 l1.55,2.7 h-3.1 z" fill="rgba(20,20,20,0.3)" stroke="#1a1a1a" stroke-width="0.7"/>
<line x1="86.42" y1="340.43" x2="86.42" y2="350.78" stroke="#231f20" stroke-width="0.6"/>
<line x1="84.83" y1="340.43" x2="88.02" y2="340.43" stroke="#231f20" stroke-width="0.6"/>
<line x1="84.83" y1="350.78" x2="88.02" y2="350.78" stroke="#231f20" stroke-width="0.6"/>
<circle cx="85.83" cy="338.89" r="1.42" fill="none" stroke="#1a1a1a" stroke-width="0.72"/>
<circle cx="85.12" cy="344.17" r="1.42" fill="none" stroke="#1a1a1a" stroke-width="0.72"/>
<circle cx="87.72" cy="345.61" r="1.42" fill="none" stroke="#1a1a1a" stroke-width="0.72"/>
<circle cx="85.92" cy="349.57" r="1.42" fill="none" stroke="#1a1a1a" stroke-width="0.72"/>
<circle cx="86.92" cy="352.81" r="1.42" fill="none" stroke="#1a1a1a" stroke-width="0.72"/>
<line x1="96.73" y1="347.36" x2="96.73" y2="353.57" stroke="#231f20" stroke-width="0.6"/>
<line x1="95.13" y1="347.36" x2="98.33" y2="347.36" stroke="#231f20" stroke-width="0.6"/>
<line x1="95.13" y1="353.57" x2="98.33" y2="353.57" stroke="#231f20" stroke-width="0.6"/>
<path d="M96.73,343.15 l1.55,2.7 h-3.1 z" fill="rgba(20,20,20,0.3)" stroke="#1a1a1a" stroke-width="0.7"/>
<path d="M95.73,350.13 l1.55,2.7 h-3.1 z" fill="rgba(20,20,20,0.3)" stroke="#1a1a1a" stroke-width="0.7"/>
<path d="M98.23,350.13 l1.55,2.7 h-3.1 z" fill="rgba(20,20,20,0.3)" stroke="#1a1a1a" stroke-width="0.7"/>
<path d="M96.73,352.85 l1.55,2.7 h-3.1 z" fill="rgba(20,20,20,0.3)" stroke="#1a1a1a" stroke-width="0.7"/>
<path d="M95.93,346.54 l1.55,2.7 h-3.1 z" fill="rgba(20,20,20,0.3)" stroke="#1a1a1a" stroke-width="0.7"/>
<line x1="52.20" y1="314.10" x2="52.20" y2="393.80" stroke="#111" stroke-width="1.25"/>
<line x1="51.60" y1="393.20" x2="104.50" y2="393.20" stroke="#111" stroke-width="1.25"/>
<line x1="49.20" y1="393.20" x2="52.20" y2="393.20" stroke="#111" stroke-width="1.0"/>
<text transform="translate(46.20,396.10)" font-size="8.3" text-anchor="end" fill="#231f20" stroke="#231f20" stroke-width="0.12">0</text>
<line x1="49.20" y1="377.68" x2="52.20" y2="377.68" stroke="#111" stroke-width="1.0"/>
<text transform="translate(46.20,380.58)" font-size="8.3" text-anchor="end" fill="#231f20" stroke="#231f20" stroke-width="0.12">150</text>
<line x1="49.20" y1="362.16" x2="52.20" y2="362.16" stroke="#111" stroke-width="1.0"/>
<text transform="translate(46.20,365.06)" font-size="8.3" text-anchor="end" fill="#231f20" stroke="#231f20" stroke-width="0.12">300</text>
<line x1="49.20" y1="346.64" x2="52.20" y2="346.64" stroke="#111" stroke-width="1.0"/>
<text transform="translate(46.20,349.54)" font-size="8.3" text-anchor="end" fill="#231f20" stroke="#231f20" stroke-width="0.12">450</text>
<line x1="49.20" y1="331.12" x2="52.20" y2="331.12" stroke="#111" stroke-width="1.0"/>
<text transform="translate(46.20,334.02)" font-size="8.3" text-anchor="end" fill="#231f20" stroke="#231f20" stroke-width="0.12">600</text>
<line x1="49.20" y1="315.60" x2="52.20" y2="315.60" stroke="#111" stroke-width="1.0"/>
<text transform="translate(46.20,318.50)" font-size="8.3" text-anchor="end" fill="#231f20" stroke="#231f20" stroke-width="0.12">750</text>
<line x1="64.38" y1="393.20" x2="64.38" y2="396.20" stroke="#111" stroke-width="1.0"/>
<line x1="91.58" y1="393.20" x2="91.58" y2="396.20" stroke="#111" stroke-width="1.0"/>
<text transform="translate(64.00,407.30)" font-size="7.7" text-anchor="middle" fill="#231f20" stroke="#231f20" stroke-width="0.12">LSK</text>
<text transform="translate(91.60,407.30)" font-size="7.7" text-anchor="middle" fill="#231f20" stroke="#231f20" stroke-width="0.12">LT-HSC</text>
<text transform="translate(77.90,307.80)" font-size="9.2" text-anchor="middle" fill="#231f20" stroke="#231f20" stroke-width="0.12">p-STAT1</text>
<text transform="translate(26.50,353.10) rotate(-90) scale(0.655,1)" font-size="10.2" text-anchor="middle" fill="#231f20" style="stroke-width:0.42" stroke="#231f20" stroke-width="0.22">MFI</text>
<rect x="50.20" y="413.60" width="4.90" height="4.50" fill="#c8102e"/>
<text transform="translate(57.50,418.30)" font-size="7.6" text-anchor="start" fill="#231f20" stroke="#231f20" stroke-width="0.12">WT + IR</text>
<rect x="50.20" y="423.50" width="4.90" height="4.50" fill="#1c4e80"/>
<text transform="translate(57.50,428.20)" font-size="7.6" text-anchor="start" fill="#231f20" stroke="#231f20" stroke-width="0.12">MC5R<tspan font-size="5.02" dy="-2.74" dx="0.3" letter-spacing="0.25">−/−</tspan><tspan dy="2.74" dx="0.1"> + IR</tspan></text>
<rect x="156.85" y="341.05" width="6.75" height="52.15" fill="#c8102e"/>
<rect x="167.05" y="344.08" width="6.75" height="49.12" fill="#1c4e80"/>
<rect x="183.95" y="350.52" width="6.75" height="42.68" fill="#c8102e"/>
<rect x="194.45" y="351.68" width="6.75" height="41.52" fill="#1c4e80"/>
<line x1="160.22" y1="335.62" x2="160.22" y2="346.48" stroke="#231f20" stroke-width="0.6"/>
<line x1="158.62" y1="335.62" x2="161.82" y2="335.62" stroke="#231f20" stroke-width="0.6"/>
<line x1="158.62" y1="346.48" x2="161.82" y2="346.48" stroke="#231f20" stroke-width="0.6"/>
<circle cx="159.32" cy="335.41" r="1.42" fill="none" stroke="#1a1a1a" stroke-width="0.72"/>
<circle cx="162.42" cy="334.21" r="1.42" fill="none" stroke="#1a1a1a" stroke-width="0.72"/>
<circle cx="158.12" cy="338.41" r="1.42" fill="none" stroke="#1a1a1a" stroke-width="0.72"/>
<circle cx="159.92" cy="344.29" r="1.42" fill="none" stroke="#1a1a1a" stroke-width="0.72"/>
<circle cx="160.03" cy="350.05" r="1.42" fill="none" stroke="#1a1a1a" stroke-width="0.72"/>
<line x1="170.42" y1="340.20" x2="170.42" y2="347.96" stroke="#231f20" stroke-width="0.6"/>
<line x1="168.82" y1="340.20" x2="172.02" y2="340.20" stroke="#231f20" stroke-width="0.6"/>
<line x1="168.82" y1="347.96" x2="172.02" y2="347.96" stroke="#231f20" stroke-width="0.6"/>
<path d="M170.02,334.18 l1.55,2.7 h-3.1 z" fill="rgba(20,20,20,0.3)" stroke="#1a1a1a" stroke-width="0.7"/>
<path d="M168.52,338.26 l1.55,2.7 h-3.1 z" fill="rgba(20,20,20,0.3)" stroke="#1a1a1a" stroke-width="0.7"/>
<path d="M171.32,338.74 l1.55,2.7 h-3.1 z" fill="rgba(20,20,20,0.3)" stroke="#1a1a1a" stroke-width="0.7"/>
<path d="M169.82,346.42 l1.55,2.7 h-3.1 z" fill="rgba(20,20,20,0.3)" stroke="#1a1a1a" stroke-width="0.7"/>
<path d="M170.42,350.38 l1.55,2.7 h-3.1 z" fill="rgba(20,20,20,0.3)" stroke="#1a1a1a" stroke-width="0.7"/>
<line x1="187.32" y1="345.86" x2="187.32" y2="355.18" stroke="#231f20" stroke-width="0.6"/>
<line x1="185.72" y1="345.86" x2="188.92" y2="345.86" stroke="#231f20" stroke-width="0.6"/>
<line x1="185.72" y1="355.18" x2="188.92" y2="355.18" stroke="#231f20" stroke-width="0.6"/>
<circle cx="186.72" cy="343.80" r="1.42" fill="none" stroke="#1a1a1a" stroke-width="0.72"/>
<circle cx="186.02" cy="349.08" r="1.42" fill="none" stroke="#1a1a1a" stroke-width="0.72"/>
<circle cx="188.62" cy="350.52" r="1.42" fill="none" stroke="#1a1a1a" stroke-width="0.72"/>
<circle cx="186.82" cy="354.48" r="1.42" fill="none" stroke="#1a1a1a" stroke-width="0.72"/>
<circle cx="187.82" cy="357.72" r="1.42" fill="none" stroke="#1a1a1a" stroke-width="0.72"/>
<line x1="197.82" y1="346.25" x2="197.82" y2="357.12" stroke="#231f20" stroke-width="0.6"/>
<line x1="196.22" y1="346.25" x2="199.42" y2="346.25" stroke="#231f20" stroke-width="0.6"/>
<line x1="196.22" y1="357.12" x2="199.42" y2="357.12" stroke="#231f20" stroke-width="0.6"/>
<path d="M197.82,342.98 l1.55,2.7 h-3.1 z" fill="rgba(20,20,20,0.3)" stroke="#1a1a1a" stroke-width="0.7"/>
<path d="M196.82,351.62 l1.55,2.7 h-3.1 z" fill="rgba(20,20,20,0.3)" stroke="#1a1a1a" stroke-width="0.7"/>
<path d="M199.32,351.62 l1.55,2.7 h-3.1 z" fill="rgba(20,20,20,0.3)" stroke="#1a1a1a" stroke-width="0.7"/>
<path d="M197.82,354.98 l1.55,2.7 h-3.1 z" fill="rgba(20,20,20,0.3)" stroke="#1a1a1a" stroke-width="0.7"/>
<path d="M197.02,347.18 l1.55,2.7 h-3.1 z" fill="rgba(20,20,20,0.3)" stroke="#1a1a1a" stroke-width="0.7"/>
<line x1="152.90" y1="314.10" x2="152.90" y2="393.80" stroke="#111" stroke-width="1.25"/>
<line x1="152.30" y1="393.20" x2="204.50" y2="393.20" stroke="#111" stroke-width="1.25"/>
<line x1="149.90" y1="393.20" x2="152.90" y2="393.20" stroke="#111" stroke-width="1.0"/>
<text transform="translate(147.30,396.10)" font-size="8.3" text-anchor="end" fill="#231f20" stroke="#231f20" stroke-width="0.12">0</text>
<line x1="149.90" y1="377.68" x2="152.90" y2="377.68" stroke="#111" stroke-width="1.0"/>
<text transform="translate(147.30,380.58)" font-size="8.3" text-anchor="end" fill="#231f20" stroke="#231f20" stroke-width="0.12">200</text>
<line x1="149.90" y1="362.16" x2="152.90" y2="362.16" stroke="#111" stroke-width="1.0"/>
<text transform="translate(147.30,365.06)" font-size="8.3" text-anchor="end" fill="#231f20" stroke="#231f20" stroke-width="0.12">400</text>
<line x1="149.90" y1="346.64" x2="152.90" y2="346.64" stroke="#111" stroke-width="1.0"/>
<text transform="translate(147.30,349.54)" font-size="8.3" text-anchor="end" fill="#231f20" stroke="#231f20" stroke-width="0.12">600</text>
<line x1="149.90" y1="331.12" x2="152.90" y2="331.12" stroke="#111" stroke-width="1.0"/>
<text transform="translate(147.30,334.02)" font-size="8.3" text-anchor="end" fill="#231f20" stroke="#231f20" stroke-width="0.12">800</text>
<line x1="149.90" y1="315.60" x2="152.90" y2="315.60" stroke="#111" stroke-width="1.0"/>
<text transform="translate(147.30,318.50)" font-size="8.3" text-anchor="end" fill="#231f20" stroke="#231f20" stroke-width="0.12">1000</text>
<line x1="165.32" y1="393.20" x2="165.32" y2="396.20" stroke="#111" stroke-width="1.0"/>
<line x1="192.57" y1="393.20" x2="192.57" y2="396.20" stroke="#111" stroke-width="1.0"/>
<text transform="translate(164.90,407.30)" font-size="7.7" text-anchor="middle" fill="#231f20" stroke="#231f20" stroke-width="0.12">LSK</text>
<text transform="translate(192.00,407.30)" font-size="7.7" text-anchor="middle" fill="#231f20" stroke="#231f20" stroke-width="0.12">LT-HSC</text>
<text transform="translate(178.90,307.80)" font-size="9.2" text-anchor="middle" fill="#231f20" stroke="#231f20" stroke-width="0.12">p-STAT3</text>
<text transform="translate(127.00,353.10) rotate(-90) scale(0.655,1)" font-size="10.2" text-anchor="middle" fill="#231f20" style="stroke-width:0.42" stroke="#231f20" stroke-width="0.22">MFI</text>
<rect x="151.50" y="413.60" width="4.90" height="4.50" fill="#c8102e"/>
<text transform="translate(158.70,418.30)" font-size="7.6" text-anchor="start" fill="#231f20" stroke="#231f20" stroke-width="0.12">WT + IR</text>
<rect x="151.50" y="423.50" width="4.90" height="4.50" fill="#1c4e80"/>
<text transform="translate(158.70,428.20)" font-size="7.6" text-anchor="start" fill="#231f20" stroke="#231f20" stroke-width="0.12">MC5R<tspan font-size="5.02" dy="-2.74" dx="0.3" letter-spacing="0.25">−/−</tspan><tspan dy="2.74" dx="0.1"> + IR</tspan></text>
<rect x="259.65" y="337.33" width="6.75" height="55.87" fill="#c8102e"/>
<rect x="270.25" y="339.91" width="6.75" height="53.29" fill="#1c4e80"/>
<rect x="287.05" y="341.12" width="6.75" height="52.08" fill="#c8102e"/>
<rect x="297.25" y="339.91" width="6.75" height="53.29" fill="#1c4e80"/>
<line x1="263.02" y1="335.17" x2="263.02" y2="339.48" stroke="#231f20" stroke-width="0.6"/>
<line x1="261.42" y1="335.17" x2="264.62" y2="335.17" stroke="#231f20" stroke-width="0.6"/>
<line x1="261.42" y1="339.48" x2="264.62" y2="339.48" stroke="#231f20" stroke-width="0.6"/>
<circle cx="262.12" cy="334.16" r="1.42" fill="none" stroke="#1a1a1a" stroke-width="0.72"/>
<circle cx="265.22" cy="333.49" r="1.42" fill="none" stroke="#1a1a1a" stroke-width="0.72"/>
<circle cx="260.92" cy="335.85" r="1.42" fill="none" stroke="#1a1a1a" stroke-width="0.72"/>
<circle cx="262.72" cy="339.15" r="1.42" fill="none" stroke="#1a1a1a" stroke-width="0.72"/>
<circle cx="262.82" cy="342.38" r="1.42" fill="none" stroke="#1a1a1a" stroke-width="0.72"/>
<line x1="273.62" y1="336.47" x2="273.62" y2="343.36" stroke="#231f20" stroke-width="0.6"/>
<line x1="272.02" y1="336.47" x2="275.23" y2="336.47" stroke="#231f20" stroke-width="0.6"/>
<line x1="272.02" y1="343.36" x2="275.23" y2="343.36" stroke="#231f20" stroke-width="0.6"/>
<path d="M273.23,330.87 l1.55,2.7 h-3.1 z" fill="rgba(20,20,20,0.3)" stroke="#1a1a1a" stroke-width="0.7"/>
<path d="M271.73,334.53 l1.55,2.7 h-3.1 z" fill="rgba(20,20,20,0.3)" stroke="#1a1a1a" stroke-width="0.7"/>
<path d="M274.52,334.97 l1.55,2.7 h-3.1 z" fill="rgba(20,20,20,0.3)" stroke="#1a1a1a" stroke-width="0.7"/>
<path d="M273.02,341.86 l1.55,2.7 h-3.1 z" fill="rgba(20,20,20,0.3)" stroke="#1a1a1a" stroke-width="0.7"/>
<path d="M273.62,345.42 l1.55,2.7 h-3.1 z" fill="rgba(20,20,20,0.3)" stroke="#1a1a1a" stroke-width="0.7"/>
<line x1="290.43" y1="337.24" x2="290.43" y2="345.00" stroke="#231f20" stroke-width="0.6"/>
<line x1="288.82" y1="337.24" x2="292.03" y2="337.24" stroke="#231f20" stroke-width="0.6"/>
<line x1="288.82" y1="345.00" x2="292.03" y2="345.00" stroke="#231f20" stroke-width="0.6"/>
<circle cx="289.82" cy="334.40" r="1.42" fill="none" stroke="#1a1a1a" stroke-width="0.72"/>
<circle cx="289.12" cy="339.68" r="1.42" fill="none" stroke="#1a1a1a" stroke-width="0.72"/>
<circle cx="291.73" cy="341.12" r="1.42" fill="none" stroke="#1a1a1a" stroke-width="0.72"/>
<circle cx="289.93" cy="345.08" r="1.42" fill="none" stroke="#1a1a1a" stroke-width="0.72"/>
<circle cx="290.93" cy="348.32" r="1.42" fill="none" stroke="#1a1a1a" stroke-width="0.72"/>
<line x1="300.62" y1="335.60" x2="300.62" y2="344.23" stroke="#231f20" stroke-width="0.6"/>
<line x1="299.02" y1="335.60" x2="302.23" y2="335.60" stroke="#231f20" stroke-width="0.6"/>
<line x1="299.02" y1="344.23" x2="302.23" y2="344.23" stroke="#231f20" stroke-width="0.6"/>
<path d="M300.62,331.21 l1.55,2.7 h-3.1 z" fill="rgba(20,20,20,0.3)" stroke="#1a1a1a" stroke-width="0.7"/>
<path d="M299.62,339.85 l1.55,2.7 h-3.1 z" fill="rgba(20,20,20,0.3)" stroke="#1a1a1a" stroke-width="0.7"/>
<path d="M302.12,339.85 l1.55,2.7 h-3.1 z" fill="rgba(20,20,20,0.3)" stroke="#1a1a1a" stroke-width="0.7"/>
<path d="M300.62,343.21 l1.55,2.7 h-3.1 z" fill="rgba(20,20,20,0.3)" stroke="#1a1a1a" stroke-width="0.7"/>
<path d="M299.82,335.41 l1.55,2.7 h-3.1 z" fill="rgba(20,20,20,0.3)" stroke="#1a1a1a" stroke-width="0.7"/>
<line x1="254.00" y1="314.10" x2="254.00" y2="393.80" stroke="#111" stroke-width="1.25"/>
<line x1="253.40" y1="393.20" x2="310.20" y2="393.20" stroke="#111" stroke-width="1.25"/>
<line x1="251.00" y1="393.20" x2="254.00" y2="393.20" stroke="#111" stroke-width="1.0"/>
<text transform="translate(248.50,396.10)" font-size="8.3" text-anchor="end" fill="#231f20" stroke="#231f20" stroke-width="0.12">0</text>
<line x1="251.00" y1="367.33" x2="254.00" y2="367.33" stroke="#111" stroke-width="1.0"/>
<text transform="translate(248.50,370.23)" font-size="8.3" text-anchor="end" fill="#231f20" stroke="#231f20" stroke-width="0.12">300</text>
<line x1="251.00" y1="341.47" x2="254.00" y2="341.47" stroke="#111" stroke-width="1.0"/>
<text transform="translate(248.50,344.37)" font-size="8.3" text-anchor="end" fill="#231f20" stroke="#231f20" stroke-width="0.12">600</text>
<line x1="251.00" y1="315.60" x2="254.00" y2="315.60" stroke="#111" stroke-width="1.0"/>
<text transform="translate(248.50,318.50)" font-size="8.3" text-anchor="end" fill="#231f20" stroke="#231f20" stroke-width="0.12">900</text>
<line x1="268.32" y1="393.20" x2="268.32" y2="396.20" stroke="#111" stroke-width="1.0"/>
<line x1="295.52" y1="393.20" x2="295.52" y2="396.20" stroke="#111" stroke-width="1.0"/>
<text transform="translate(268.20,407.30)" font-size="7.7" text-anchor="middle" fill="#231f20" stroke="#231f20" stroke-width="0.12">LSK</text>
<text transform="translate(295.40,407.30)" font-size="7.7" text-anchor="middle" fill="#231f20" stroke="#231f20" stroke-width="0.12">LT-HSC</text>
<text transform="translate(282.00,307.80)" font-size="9.2" text-anchor="middle" fill="#231f20" stroke="#231f20" stroke-width="0.12">p-STAT5</text>
<text transform="translate(230.30,353.10) rotate(-90) scale(0.655,1)" font-size="10.2" text-anchor="middle" fill="#231f20" style="stroke-width:0.42" stroke="#231f20" stroke-width="0.22">MFI</text>
<rect x="254.00" y="413.60" width="4.90" height="4.50" fill="#c8102e"/>
<text transform="translate(261.20,418.30)" font-size="7.6" text-anchor="start" fill="#231f20" stroke="#231f20" stroke-width="0.12">WT + IR</text>
<rect x="254.00" y="423.50" width="4.90" height="4.50" fill="#1c4e80"/>
<text transform="translate(261.20,428.20)" font-size="7.6" text-anchor="start" fill="#231f20" stroke="#231f20" stroke-width="0.12">MC5R<tspan font-size="5.02" dy="-2.74" dx="0.3" letter-spacing="0.25">−/−</tspan><tspan dy="2.74" dx="0.1"> + IR</tspan></text>
<rect x="366.05" y="336.46" width="6.75" height="56.74" fill="#c8102e"/>
<rect x="376.95" y="335.97" width="6.75" height="57.23" fill="#1c4e80"/>
<rect x="393.95" y="341.06" width="6.75" height="52.14" fill="#c8102e"/>
<rect x="404.25" y="340.34" width="6.75" height="52.86" fill="#1c4e80"/>
<line x1="369.43" y1="334.52" x2="369.43" y2="338.40" stroke="#231f20" stroke-width="0.6"/>
<line x1="367.82" y1="334.52" x2="371.03" y2="334.52" stroke="#231f20" stroke-width="0.6"/>
<line x1="367.82" y1="338.40" x2="371.03" y2="338.40" stroke="#231f20" stroke-width="0.6"/>
<circle cx="368.53" cy="333.61" r="1.42" fill="none" stroke="#1a1a1a" stroke-width="0.72"/>
<circle cx="371.62" cy="333.00" r="1.42" fill="none" stroke="#1a1a1a" stroke-width="0.72"/>
<circle cx="367.32" cy="335.12" r="1.42" fill="none" stroke="#1a1a1a" stroke-width="0.72"/>
<circle cx="369.12" cy="338.09" r="1.42" fill="none" stroke="#1a1a1a" stroke-width="0.72"/>
<circle cx="369.23" cy="341.00" r="1.42" fill="none" stroke="#1a1a1a" stroke-width="0.72"/>
<line x1="380.32" y1="333.79" x2="380.32" y2="338.15" stroke="#231f20" stroke-width="0.6"/>
<line x1="378.72" y1="333.79" x2="381.93" y2="333.79" stroke="#231f20" stroke-width="0.6"/>
<line x1="378.72" y1="338.15" x2="381.93" y2="338.15" stroke="#231f20" stroke-width="0.6"/>
<path d="M379.93,329.70 l1.55,2.7 h-3.1 z" fill="rgba(20,20,20,0.3)" stroke="#1a1a1a" stroke-width="0.7"/>
<path d="M378.43,332.01 l1.55,2.7 h-3.1 z" fill="rgba(20,20,20,0.3)" stroke="#1a1a1a" stroke-width="0.7"/>
<path d="M381.22,332.29 l1.55,2.7 h-3.1 z" fill="rgba(20,20,20,0.3)" stroke="#1a1a1a" stroke-width="0.7"/>
<path d="M379.72,336.65 l1.55,2.7 h-3.1 z" fill="rgba(20,20,20,0.3)" stroke="#1a1a1a" stroke-width="0.7"/>
<path d="M380.32,338.90 l1.55,2.7 h-3.1 z" fill="rgba(20,20,20,0.3)" stroke="#1a1a1a" stroke-width="0.7"/>
<line x1="397.32" y1="338.64" x2="397.32" y2="343.49" stroke="#231f20" stroke-width="0.6"/>
<line x1="395.72" y1="338.64" x2="398.93" y2="338.64" stroke="#231f20" stroke-width="0.6"/>
<line x1="395.72" y1="343.49" x2="398.93" y2="343.49" stroke="#231f20" stroke-width="0.6"/>
<circle cx="396.72" cy="336.82" r="1.42" fill="none" stroke="#1a1a1a" stroke-width="0.72"/>
<circle cx="396.02" cy="340.15" r="1.42" fill="none" stroke="#1a1a1a" stroke-width="0.72"/>
<circle cx="398.62" cy="341.06" r="1.42" fill="none" stroke="#1a1a1a" stroke-width="0.72"/>
<circle cx="396.82" cy="343.56" r="1.42" fill="none" stroke="#1a1a1a" stroke-width="0.72"/>
<circle cx="397.82" cy="345.61" r="1.42" fill="none" stroke="#1a1a1a" stroke-width="0.72"/>
<line x1="407.62" y1="337.91" x2="407.62" y2="342.76" stroke="#231f20" stroke-width="0.6"/>
<line x1="406.02" y1="337.91" x2="409.23" y2="337.91" stroke="#231f20" stroke-width="0.6"/>
<line x1="406.02" y1="342.76" x2="409.23" y2="342.76" stroke="#231f20" stroke-width="0.6"/>
<path d="M407.62,334.29 l1.55,2.7 h-3.1 z" fill="rgba(20,20,20,0.3)" stroke="#1a1a1a" stroke-width="0.7"/>
<path d="M406.62,339.74 l1.55,2.7 h-3.1 z" fill="rgba(20,20,20,0.3)" stroke="#1a1a1a" stroke-width="0.7"/>
<path d="M409.12,339.74 l1.55,2.7 h-3.1 z" fill="rgba(20,20,20,0.3)" stroke="#1a1a1a" stroke-width="0.7"/>
<path d="M407.62,341.87 l1.55,2.7 h-3.1 z" fill="rgba(20,20,20,0.3)" stroke="#1a1a1a" stroke-width="0.7"/>
<path d="M406.82,336.94 l1.55,2.7 h-3.1 z" fill="rgba(20,20,20,0.3)" stroke="#1a1a1a" stroke-width="0.7"/>
<line x1="361.00" y1="314.10" x2="361.00" y2="393.80" stroke="#111" stroke-width="1.25"/>
<line x1="360.40" y1="393.20" x2="416.50" y2="393.20" stroke="#111" stroke-width="1.25"/>
<line x1="358.00" y1="393.20" x2="361.00" y2="393.20" stroke="#111" stroke-width="1.0"/>
<text transform="translate(356.20,396.10)" font-size="8.3" text-anchor="end" fill="#231f20" stroke="#231f20" stroke-width="0.12">0</text>
<line x1="358.00" y1="373.80" x2="361.00" y2="373.80" stroke="#111" stroke-width="1.0"/>
<text transform="translate(356.20,376.70)" font-size="8.3" text-anchor="end" fill="#231f20" stroke="#231f20" stroke-width="0.12">400</text>
<line x1="358.00" y1="354.40" x2="361.00" y2="354.40" stroke="#111" stroke-width="1.0"/>
<text transform="translate(356.20,357.30)" font-size="8.3" text-anchor="end" fill="#231f20" stroke="#231f20" stroke-width="0.12">800</text>
<line x1="358.00" y1="335.00" x2="361.00" y2="335.00" stroke="#111" stroke-width="1.0"/>
<text transform="translate(356.20,337.90)" font-size="8.3" text-anchor="end" fill="#231f20" stroke="#231f20" stroke-width="0.12">1200</text>
<line x1="358.00" y1="315.60" x2="361.00" y2="315.60" stroke="#111" stroke-width="1.0"/>
<text transform="translate(356.20,318.50)" font-size="8.3" text-anchor="end" fill="#231f20" stroke="#231f20" stroke-width="0.12">1600</text>
<line x1="374.88" y1="393.20" x2="374.88" y2="396.20" stroke="#111" stroke-width="1.0"/>
<line x1="402.48" y1="393.20" x2="402.48" y2="396.20" stroke="#111" stroke-width="1.0"/>
<text transform="translate(375.00,407.30)" font-size="7.7" text-anchor="middle" fill="#231f20" stroke="#231f20" stroke-width="0.12">LSK</text>
<text transform="translate(402.30,407.30)" font-size="7.7" text-anchor="middle" fill="#231f20" stroke="#231f20" stroke-width="0.12">LT-HSC</text>
<text transform="translate(387.80,307.80)" font-size="9.2" text-anchor="middle" fill="#231f20" stroke="#231f20" stroke-width="0.12">p-Smad2/3</text>
<text transform="translate(336.70,353.10) rotate(-90) scale(0.655,1)" font-size="10.2" text-anchor="middle" fill="#231f20" style="stroke-width:0.42" stroke="#231f20" stroke-width="0.22">MFI</text>
<rect x="361.00" y="413.60" width="4.90" height="4.50" fill="#c8102e"/>
<text transform="translate(368.20,418.30)" font-size="7.6" text-anchor="start" fill="#231f20" stroke="#231f20" stroke-width="0.12">WT + IR</text>
<rect x="361.00" y="423.50" width="4.90" height="4.50" fill="#1c4e80"/>
<text transform="translate(368.20,428.20)" font-size="7.6" text-anchor="start" fill="#231f20" stroke="#231f20" stroke-width="0.12">MC5R<tspan font-size="5.02" dy="-2.74" dx="0.3" letter-spacing="0.25">−/−</tspan><tspan dy="2.74" dx="0.1"> + IR</tspan></text>
<rect x="464.15" y="346.64" width="6.75" height="46.56" fill="#c8102e"/>
<rect x="474.35" y="349.95" width="6.75" height="43.25" fill="#1c4e80"/>
<rect x="491.25" y="356.26" width="6.75" height="36.94" fill="#c8102e"/>
<rect x="501.45" y="358.02" width="6.75" height="35.18" fill="#1c4e80"/>
<line x1="467.52" y1="343.54" x2="467.52" y2="349.74" stroke="#231f20" stroke-width="0.6"/>
<line x1="465.92" y1="343.54" x2="469.12" y2="343.54" stroke="#231f20" stroke-width="0.6"/>
<line x1="465.92" y1="349.74" x2="469.12" y2="349.74" stroke="#231f20" stroke-width="0.6"/>
<circle cx="466.62" cy="342.08" r="1.42" fill="none" stroke="#1a1a1a" stroke-width="0.72"/>
<circle cx="469.72" cy="341.11" r="1.42" fill="none" stroke="#1a1a1a" stroke-width="0.72"/>
<circle cx="465.42" cy="344.51" r="1.42" fill="none" stroke="#1a1a1a" stroke-width="0.72"/>
<circle cx="467.22" cy="349.26" r="1.42" fill="none" stroke="#1a1a1a" stroke-width="0.72"/>
<circle cx="467.32" cy="353.91" r="1.42" fill="none" stroke="#1a1a1a" stroke-width="0.72"/>
<line x1="477.72" y1="345.81" x2="477.72" y2="354.09" stroke="#231f20" stroke-width="0.6"/>
<line x1="476.12" y1="345.81" x2="479.32" y2="345.81" stroke="#231f20" stroke-width="0.6"/>
<line x1="476.12" y1="354.09" x2="479.32" y2="354.09" stroke="#231f20" stroke-width="0.6"/>
<path d="M477.32,340.05 l1.55,2.7 h-3.1 z" fill="rgba(20,20,20,0.3)" stroke="#1a1a1a" stroke-width="0.7"/>
<path d="M475.82,344.13 l1.55,2.7 h-3.1 z" fill="rgba(20,20,20,0.3)" stroke="#1a1a1a" stroke-width="0.7"/>
<path d="M478.62,344.61 l1.55,2.7 h-3.1 z" fill="rgba(20,20,20,0.3)" stroke="#1a1a1a" stroke-width="0.7"/>
<path d="M477.12,352.29 l1.55,2.7 h-3.1 z" fill="rgba(20,20,20,0.3)" stroke="#1a1a1a" stroke-width="0.7"/>
<path d="M477.72,356.25 l1.55,2.7 h-3.1 z" fill="rgba(20,20,20,0.3)" stroke="#1a1a1a" stroke-width="0.7"/>
<line x1="494.62" y1="353.68" x2="494.62" y2="358.85" stroke="#231f20" stroke-width="0.6"/>
<line x1="493.02" y1="353.68" x2="496.23" y2="353.68" stroke="#231f20" stroke-width="0.6"/>
<line x1="493.02" y1="358.85" x2="496.23" y2="358.85" stroke="#231f20" stroke-width="0.6"/>
<circle cx="494.02" cy="351.74" r="1.42" fill="none" stroke="#1a1a1a" stroke-width="0.72"/>
<circle cx="493.32" cy="355.29" r="1.42" fill="none" stroke="#1a1a1a" stroke-width="0.72"/>
<circle cx="495.93" cy="356.26" r="1.42" fill="none" stroke="#1a1a1a" stroke-width="0.72"/>
<circle cx="494.12" cy="358.93" r="1.42" fill="none" stroke="#1a1a1a" stroke-width="0.72"/>
<circle cx="495.12" cy="361.11" r="1.42" fill="none" stroke="#1a1a1a" stroke-width="0.72"/>
<line x1="504.82" y1="354.40" x2="504.82" y2="361.64" stroke="#231f20" stroke-width="0.6"/>
<line x1="503.22" y1="354.40" x2="506.43" y2="354.40" stroke="#231f20" stroke-width="0.6"/>
<line x1="503.22" y1="361.64" x2="506.43" y2="361.64" stroke="#231f20" stroke-width="0.6"/>
<path d="M504.82,349.73 l1.55,2.7 h-3.1 z" fill="rgba(20,20,20,0.3)" stroke="#1a1a1a" stroke-width="0.7"/>
<path d="M503.82,357.88 l1.55,2.7 h-3.1 z" fill="rgba(20,20,20,0.3)" stroke="#1a1a1a" stroke-width="0.7"/>
<path d="M506.32,357.88 l1.55,2.7 h-3.1 z" fill="rgba(20,20,20,0.3)" stroke="#1a1a1a" stroke-width="0.7"/>
<path d="M504.82,361.05 l1.55,2.7 h-3.1 z" fill="rgba(20,20,20,0.3)" stroke="#1a1a1a" stroke-width="0.7"/>
<path d="M504.02,353.69 l1.55,2.7 h-3.1 z" fill="rgba(20,20,20,0.3)" stroke="#1a1a1a" stroke-width="0.7"/>
<line x1="458.70" y1="314.10" x2="458.70" y2="393.80" stroke="#111" stroke-width="1.25"/>
<line x1="458.10" y1="393.20" x2="514.20" y2="393.20" stroke="#111" stroke-width="1.25"/>
<line x1="455.70" y1="393.20" x2="458.70" y2="393.20" stroke="#111" stroke-width="1.0"/>
<text transform="translate(453.80,396.10)" font-size="8.3" text-anchor="end" fill="#231f20" stroke="#231f20" stroke-width="0.12">0</text>
<line x1="455.70" y1="377.68" x2="458.70" y2="377.68" stroke="#111" stroke-width="1.0"/>
<text transform="translate(453.80,380.58)" font-size="8.3" text-anchor="end" fill="#231f20" stroke="#231f20" stroke-width="0.12">150</text>
<line x1="455.70" y1="362.16" x2="458.70" y2="362.16" stroke="#111" stroke-width="1.0"/>
<text transform="translate(453.80,365.06)" font-size="8.3" text-anchor="end" fill="#231f20" stroke="#231f20" stroke-width="0.12">300</text>
<line x1="455.70" y1="346.64" x2="458.70" y2="346.64" stroke="#111" stroke-width="1.0"/>
<text transform="translate(453.80,349.54)" font-size="8.3" text-anchor="end" fill="#231f20" stroke="#231f20" stroke-width="0.12">450</text>
<line x1="455.70" y1="331.12" x2="458.70" y2="331.12" stroke="#111" stroke-width="1.0"/>
<text transform="translate(453.80,334.02)" font-size="8.3" text-anchor="end" fill="#231f20" stroke="#231f20" stroke-width="0.12">600</text>
<line x1="455.70" y1="315.60" x2="458.70" y2="315.60" stroke="#111" stroke-width="1.0"/>
<text transform="translate(453.80,318.50)" font-size="8.3" text-anchor="end" fill="#231f20" stroke="#231f20" stroke-width="0.12">750</text>
<line x1="472.62" y1="393.20" x2="472.62" y2="396.20" stroke="#111" stroke-width="1.0"/>
<line x1="499.73" y1="393.20" x2="499.73" y2="396.20" stroke="#111" stroke-width="1.0"/>
<text transform="translate(472.00,407.30)" font-size="7.7" text-anchor="middle" fill="#231f20" stroke="#231f20" stroke-width="0.12">LSK</text>
<text transform="translate(499.40,407.30)" font-size="7.7" text-anchor="middle" fill="#231f20" stroke="#231f20" stroke-width="0.12">LT-HSC</text>
<text transform="translate(486.70,307.80)" font-size="9.2" text-anchor="middle" fill="#231f20" stroke="#231f20" stroke-width="0.12">p-p65</text>
<text transform="translate(433.80,353.10) rotate(-90) scale(0.655,1)" font-size="10.2" text-anchor="middle" fill="#231f20" style="stroke-width:0.42" stroke="#231f20" stroke-width="0.22">MFI</text>
<rect x="458.10" y="413.60" width="4.90" height="4.50" fill="#c8102e"/>
<text transform="translate(465.20,418.30)" font-size="7.6" text-anchor="start" fill="#231f20" stroke="#231f20" stroke-width="0.12">WT + IR</text>
<rect x="458.10" y="423.50" width="4.90" height="4.50" fill="#1c4e80"/>
<text transform="translate(465.20,428.20)" font-size="7.6" text-anchor="start" fill="#231f20" stroke="#231f20" stroke-width="0.12">MC5R<tspan font-size="5.02" dy="-2.74" dx="0.3" letter-spacing="0.25">−/−</tspan><tspan dy="2.74" dx="0.1"> + IR</tspan></text>
<g><rect x="61.75" y="463.75" width="57.0" height="57.0" fill="#060708"/>
<g clip-path="url(#cp1)" filter="url(#bl2)">
<circle cx="104.25" cy="475.50" r="1.75" fill="rgba(30,110,30,0.12)" stroke="rgba(60,165,55,0.34)" stroke-width="0.8"/>
<circle cx="113.95" cy="485.75" r="1.75" fill="rgba(30,110,30,0.11)" stroke="rgba(60,165,55,0.31)" stroke-width="0.8"/>
<circle cx="102.35" cy="493.00" r="2.05" fill="rgba(30,110,30,0.20)" stroke="rgba(60,165,55,0.56)" stroke-width="0.8"/>
<circle cx="74.05" cy="499.15" r="2.35" fill="rgba(30,110,30,0.22)" stroke="rgba(60,165,55,0.62)" stroke-width="0.8"/>
<circle cx="70.25" cy="503.95" r="1.95" fill="rgba(30,110,30,0.18)" stroke="rgba(60,165,55,0.50)" stroke-width="0.8"/>
<circle cx="65.45" cy="508.95" r="2.05" fill="rgba(30,110,30,0.20)" stroke="rgba(60,165,55,0.56)" stroke-width="0.8"/>
</g>
</g>
<g><rect x="123.50" y="463.75" width="57.0" height="57.0" fill="#060708"/>
<g clip-path="url(#cp2)" filter="url(#bl)">
<circle cx="166.00" cy="475.50" r="2.25" fill="rgba(66,56,180,0.43)"/>
<circle cx="175.70" cy="485.75" r="2.25" fill="rgba(66,56,180,0.39)"/>
<circle cx="164.10" cy="493.00" r="2.55" fill="rgba(66,56,180,0.70)"/>
<circle cx="135.80" cy="499.15" r="2.85" fill="rgba(66,56,180,0.78)"/>
<circle cx="132.00" cy="503.95" r="2.45" fill="rgba(66,56,180,0.62)"/>
<circle cx="127.20" cy="508.95" r="2.55" fill="rgba(66,56,180,0.70)"/>
</g>
</g>
<g><rect x="185.10" y="463.75" width="57.0" height="57.0" fill="#060708"/>
<g clip-path="url(#cp3)" filter="url(#bl2)">
<circle cx="227.60" cy="475.50" r="1.90" fill="rgba(50,70,170,0.33)" stroke="rgba(60,150,190,0.39)" stroke-width="0.8"/>
<circle cx="237.30" cy="485.75" r="1.90" fill="rgba(50,70,170,0.30)" stroke="rgba(60,150,190,0.35)" stroke-width="0.8"/>
<circle cx="225.70" cy="493.00" r="2.20" fill="rgba(50,70,170,0.54)" stroke="rgba(60,150,190,0.63)" stroke-width="0.8"/>
<circle cx="197.40" cy="499.15" r="2.50" fill="rgba(50,70,170,0.60)" stroke="rgba(60,150,190,0.70)" stroke-width="0.8"/>
<circle cx="193.60" cy="503.95" r="2.10" fill="rgba(50,70,170,0.48)" stroke="rgba(60,150,190,0.56)" stroke-width="0.8"/>
<circle cx="188.80" cy="508.95" r="2.20" fill="rgba(50,70,170,0.54)" stroke="rgba(60,150,190,0.63)" stroke-width="0.8"/>
</g>
<text transform="translate(223.80,518.05) scale(0.93,1)" font-size="7.6" text-anchor="start" font-weight="bold" fill="#fff">10 μm</text>
<line x1="230.50" y1="519.85" x2="237.80" y2="519.85" stroke="#fff" stroke-width="0.8"/>
</g>
<g><rect x="61.75" y="525.75" width="57.0" height="57.0" fill="#060708"/>
<g clip-path="url(#cp4)" filter="url(#bl2)">
<circle cx="110.50" cy="533.00" r="1.75" fill="rgba(30,110,30,0.10)" stroke="rgba(60,165,55,0.28)" stroke-width="0.8"/>
<circle cx="111.75" cy="538.25" r="1.75" fill="rgba(30,110,30,0.11)" stroke="rgba(60,165,55,0.31)" stroke-width="0.8"/>
<circle cx="111.75" cy="544.50" r="1.75" fill="rgba(30,110,30,0.09)" stroke="rgba(60,165,55,0.25)" stroke-width="0.8"/>
<circle cx="90.00" cy="550.75" r="1.75" fill="rgba(30,110,30,0.10)" stroke="rgba(60,165,55,0.28)" stroke-width="0.8"/>
<circle cx="94.75" cy="541.25" r="1.75" fill="rgba(30,110,30,0.07)" stroke="rgba(60,165,55,0.19)" stroke-width="0.8"/>
<circle cx="79.75" cy="559.75" r="1.75" fill="rgba(30,110,30,0.07)" stroke="rgba(60,165,55,0.19)" stroke-width="0.8"/>
<circle cx="69.75" cy="565.75" r="1.75" fill="rgba(30,110,30,0.06)" stroke="rgba(60,165,55,0.15)" stroke-width="0.8"/>
<circle cx="99.75" cy="568.75" r="1.75" fill="rgba(30,110,30,0.06)" stroke="rgba(60,165,55,0.15)" stroke-width="0.8"/>
<circle cx="107.75" cy="558.75" r="1.75" fill="rgba(30,110,30,0.06)" stroke="rgba(60,165,55,0.15)" stroke-width="0.8"/>
<circle cx="89.75" cy="576.75" r="1.75" fill="rgba(30,110,30,0.06)" stroke="rgba(60,165,55,0.15)" stroke-width="0.8"/>
</g>
</g>
<g><rect x="123.50" y="525.75" width="57.0" height="57.0" fill="#060708"/>
<g clip-path="url(#cp5)" filter="url(#bl)">
<circle cx="137.50" cy="529.00" r="2.25" fill="rgba(66,56,180,0.66)"/>
<circle cx="174.25" cy="530.75" r="2.25" fill="rgba(66,56,180,0.66)"/>
<circle cx="172.00" cy="534.25" r="2.25" fill="rgba(66,56,180,0.46)"/>
<circle cx="173.50" cy="538.25" r="2.25" fill="rgba(66,56,180,0.46)"/>
<circle cx="155.50" cy="542.00" r="2.25" fill="rgba(66,56,180,0.53)"/>
<circle cx="173.00" cy="545.00" r="2.25" fill="rgba(66,56,180,0.66)"/>
<circle cx="151.25" cy="550.75" r="2.25" fill="rgba(66,56,180,0.66)"/>
<circle cx="169.75" cy="559.00" r="2.25" fill="rgba(66,56,180,0.66)"/>
<circle cx="138.80" cy="560.00" r="2.25" fill="rgba(66,56,180,0.60)"/>
<circle cx="141.70" cy="560.00" r="2.25" fill="rgba(66,56,180,0.60)"/>
<circle cx="131.00" cy="565.25" r="2.25" fill="rgba(66,56,180,0.66)"/>
<circle cx="161.25" cy="568.75" r="2.25" fill="rgba(66,56,180,0.66)"/>
<circle cx="130.50" cy="576.50" r="2.25" fill="rgba(66,56,180,0.66)"/>
<circle cx="151.00" cy="577.00" r="2.25" fill="rgba(66,56,180,0.66)"/>
</g>
</g>
<g><rect x="185.10" y="525.75" width="57.0" height="57.0" fill="#060708"/>
<g clip-path="url(#cp6)" filter="url(#bl)">
<circle cx="199.10" cy="529.00" r="2.25" fill="rgba(66,56,180,0.62)"/>
<circle cx="235.85" cy="530.75" r="2.25" fill="rgba(66,56,180,0.62)"/>
<circle cx="233.60" cy="534.25" r="2.25" fill="rgba(66,56,180,0.44)"/>
<circle cx="235.10" cy="538.25" r="2.25" fill="rgba(66,56,180,0.44)"/>
<circle cx="217.10" cy="542.00" r="2.25" fill="rgba(66,56,180,0.50)"/>
<circle cx="234.60" cy="545.00" r="2.25" fill="rgba(66,56,180,0.62)"/>
<circle cx="212.85" cy="550.75" r="2.25" fill="rgba(66,56,180,0.62)"/>
<circle cx="231.35" cy="559.00" r="2.25" fill="rgba(66,56,180,0.62)"/>
<circle cx="200.40" cy="560.00" r="2.25" fill="rgba(66,56,180,0.56)"/>
<circle cx="203.30" cy="560.00" r="2.25" fill="rgba(66,56,180,0.56)"/>
<circle cx="192.60" cy="565.25" r="2.25" fill="rgba(66,56,180,0.62)"/>
<circle cx="222.85" cy="568.75" r="2.25" fill="rgba(66,56,180,0.62)"/>
<circle cx="192.10" cy="576.50" r="2.25" fill="rgba(66,56,180,0.62)"/>
<circle cx="212.60" cy="577.00" r="2.25" fill="rgba(66,56,180,0.62)"/>
</g>
<text transform="translate(223.80,580.05) scale(0.93,1)" font-size="7.6" text-anchor="start" font-weight="bold" fill="#fff">10 μm</text>
<line x1="230.50" y1="581.85" x2="237.80" y2="581.85" stroke="#fff" stroke-width="0.8"/>
</g>
<g><rect x="303.75" y="463.75" width="57.0" height="57.0" fill="#060708"/>
<g clip-path="url(#cp7)" filter="url(#bl)">
<circle cx="328.00" cy="472.50" r="2.40" fill="rgba(45,145,55,0.42)"/>
<circle cx="328.40" cy="472.20" r="0.90" fill="rgba(90,200,90,0.28)"/>
<circle cx="342.50" cy="468.00" r="2.40" fill="rgba(45,145,55,0.36)"/>
<circle cx="342.90" cy="467.70" r="0.90" fill="rgba(90,200,90,0.24)"/>
<circle cx="351.25" cy="472.50" r="2.40" fill="rgba(45,145,55,0.30)"/>
<circle cx="351.65" cy="472.20" r="0.90" fill="rgba(90,200,90,0.20)"/>
<circle cx="338.75" cy="475.50" r="2.90" fill="rgba(45,145,55,0.54)"/>
<circle cx="339.15" cy="475.20" r="1.12" fill="rgba(90,200,90,0.36)"/>
<circle cx="336.75" cy="499.50" r="2.40" fill="rgba(45,145,55,0.54)"/>
<circle cx="337.15" cy="499.20" r="0.90" fill="rgba(90,200,90,0.36)"/>
<circle cx="311.25" cy="503.00" r="2.40" fill="rgba(45,145,55,0.54)"/>
<circle cx="311.65" cy="502.70" r="0.90" fill="rgba(90,200,90,0.36)"/>
<circle cx="353.75" cy="505.00" r="2.40" fill="rgba(45,145,55,0.36)"/>
<circle cx="354.15" cy="504.70" r="0.90" fill="rgba(90,200,90,0.24)"/>
<circle cx="317.00" cy="513.00" r="2.40" fill="rgba(45,145,55,0.60)"/>
<circle cx="317.40" cy="512.70" r="0.90" fill="rgba(90,200,90,0.40)"/>
<circle cx="317.50" cy="518.00" r="2.40" fill="rgba(45,145,55,0.54)"/>
<circle cx="317.90" cy="517.70" r="0.90" fill="rgba(90,200,90,0.36)"/>
<circle cx="346.75" cy="514.50" r="2.40" fill="rgba(45,145,55,0.60)"/>
<circle cx="347.15" cy="514.20" r="0.90" fill="rgba(90,200,90,0.40)"/>
<circle cx="338.00" cy="520.00" r="2.40" fill="rgba(45,145,55,0.42)"/>
<circle cx="338.40" cy="519.70" r="0.90" fill="rgba(90,200,90,0.28)"/>
</g>
</g>
<g><rect x="365.50" y="463.75" width="57.0" height="57.0" fill="#060708"/>
<g clip-path="url(#cp8)" filter="url(#bl)">
<circle cx="389.75" cy="472.50" r="2.25" fill="rgba(66,56,180,0.41)"/>
<circle cx="404.25" cy="468.00" r="2.25" fill="rgba(66,56,180,0.35)"/>
<circle cx="413.00" cy="472.50" r="2.25" fill="rgba(66,56,180,0.29)"/>
<circle cx="400.50" cy="475.50" r="2.75" fill="rgba(66,56,180,0.53)"/>
<circle cx="398.50" cy="499.50" r="2.25" fill="rgba(66,56,180,0.53)"/>
<circle cx="373.00" cy="503.00" r="2.25" fill="rgba(66,56,180,0.53)"/>
<circle cx="415.50" cy="505.00" r="2.25" fill="rgba(66,56,180,0.35)"/>
<circle cx="378.75" cy="513.00" r="2.25" fill="rgba(66,56,180,0.58)"/>
<circle cx="379.25" cy="518.00" r="2.25" fill="rgba(66,56,180,0.53)"/>
<circle cx="408.50" cy="514.50" r="2.25" fill="rgba(66,56,180,0.58)"/>
<circle cx="399.75" cy="520.00" r="2.25" fill="rgba(66,56,180,0.41)"/>
</g>
</g>
<g><rect x="427.40" y="463.75" width="57.0" height="57.0" fill="#060708"/>
<g clip-path="url(#cp9)" filter="url(#bl)">
<circle cx="451.65" cy="472.50" r="2.40" fill="rgba(48,138,160,0.59)"/>
<circle cx="466.15" cy="468.00" r="2.40" fill="rgba(48,138,160,0.51)"/>
<circle cx="474.90" cy="472.50" r="2.40" fill="rgba(48,138,160,0.42)"/>
<circle cx="462.40" cy="475.50" r="2.90" fill="rgba(48,138,160,0.77)"/>
<circle cx="460.40" cy="499.50" r="2.40" fill="rgba(48,138,160,0.77)"/>
<circle cx="434.90" cy="503.00" r="2.40" fill="rgba(48,138,160,0.77)"/>
<circle cx="477.40" cy="505.00" r="2.40" fill="rgba(48,138,160,0.51)"/>
<circle cx="440.65" cy="513.00" r="2.40" fill="rgba(48,138,160,0.85)"/>
<circle cx="441.15" cy="518.00" r="2.40" fill="rgba(48,138,160,0.77)"/>
<circle cx="470.40" cy="514.50" r="2.40" fill="rgba(48,138,160,0.85)"/>
<circle cx="461.65" cy="520.00" r="2.40" fill="rgba(48,138,160,0.59)"/>
</g>
<text transform="translate(466.10,518.05) scale(0.93,1)" font-size="7.6" text-anchor="start" font-weight="bold" fill="#fff">10 μm</text>
<line x1="472.80" y1="519.85" x2="480.10" y2="519.85" stroke="#fff" stroke-width="0.8"/>
</g>
<g><rect x="303.75" y="525.75" width="57.0" height="57.0" fill="#060708"/>
<g clip-path="url(#cp10)" filter="url(#bl)">
<circle cx="308.25" cy="535.75" r="3.20" fill="rgba(45,145,55,0.30)"/>
<circle cx="308.65" cy="535.45" r="1.26" fill="rgba(90,200,90,0.20)"/>
<circle cx="306.75" cy="538.25" r="2.60" fill="rgba(45,145,55,0.24)"/>
<circle cx="307.15" cy="537.95" r="0.99" fill="rgba(90,200,90,0.16)"/>
<circle cx="317.00" cy="537.00" r="2.40" fill="rgba(45,145,55,0.30)"/>
<circle cx="317.40" cy="536.70" r="0.90" fill="rgba(90,200,90,0.20)"/>
<circle cx="327.00" cy="540.75" r="3.00" fill="rgba(45,145,55,0.30)"/>
<circle cx="327.40" cy="540.45" r="1.17" fill="rgba(90,200,90,0.20)"/>
<circle cx="352.00" cy="542.00" r="2.40" fill="rgba(45,145,55,0.24)"/>
<circle cx="352.40" cy="541.70" r="0.90" fill="rgba(90,200,90,0.16)"/>
<circle cx="341.50" cy="552.00" r="2.40" fill="rgba(45,145,55,0.30)"/>
<circle cx="341.90" cy="551.70" r="0.90" fill="rgba(90,200,90,0.20)"/>
<circle cx="325.75" cy="551.50" r="2.40" fill="rgba(45,145,55,0.24)"/>
<circle cx="326.15" cy="551.20" r="0.90" fill="rgba(90,200,90,0.16)"/>
<circle cx="318.25" cy="557.00" r="2.40" fill="rgba(45,145,55,0.30)"/>
<circle cx="318.65" cy="556.70" r="0.90" fill="rgba(90,200,90,0.20)"/>
<circle cx="324.50" cy="562.50" r="2.40" fill="rgba(45,145,55,0.30)"/>
<circle cx="324.90" cy="562.20" r="0.90" fill="rgba(90,200,90,0.20)"/>
<circle cx="350.25" cy="559.50" r="2.40" fill="rgba(45,145,55,0.21)"/>
<circle cx="350.65" cy="559.20" r="0.90" fill="rgba(90,200,90,0.14)"/>
<circle cx="335.75" cy="566.50" r="2.40" fill="rgba(45,145,55,0.30)"/>
<circle cx="336.15" cy="566.20" r="0.90" fill="rgba(90,200,90,0.20)"/>
<circle cx="341.25" cy="565.00" r="2.40" fill="rgba(45,145,55,0.21)"/>
<circle cx="341.65" cy="564.70" r="0.90" fill="rgba(90,200,90,0.14)"/>
<circle cx="307.00" cy="569.00" r="2.40" fill="rgba(45,145,55,0.30)"/>
<circle cx="307.40" cy="568.70" r="0.90" fill="rgba(90,200,90,0.20)"/>
<circle cx="316.25" cy="569.00" r="2.40" fill="rgba(45,145,55,0.30)"/>
<circle cx="316.65" cy="568.70" r="0.90" fill="rgba(90,200,90,0.20)"/>
<circle cx="355.75" cy="572.00" r="2.40" fill="rgba(45,145,55,0.24)"/>
<circle cx="356.15" cy="571.70" r="0.90" fill="rgba(90,200,90,0.16)"/>
</g>
</g>
<g><rect x="365.50" y="525.75" width="57.0" height="57.0" fill="#060708"/>
<g clip-path="url(#cp11)" filter="url(#bl)">
<circle cx="370.00" cy="535.75" r="3.05" fill="rgba(66,56,180,0.70)"/>
<circle cx="368.50" cy="538.25" r="2.45" fill="rgba(66,56,180,0.56)"/>
<circle cx="378.75" cy="537.00" r="2.25" fill="rgba(66,56,180,0.70)"/>
<circle cx="388.75" cy="540.75" r="2.85" fill="rgba(66,56,180,0.70)"/>
<circle cx="413.75" cy="542.00" r="2.25" fill="rgba(66,56,180,0.56)"/>
<circle cx="403.25" cy="552.00" r="2.25" fill="rgba(66,56,180,0.70)"/>
<circle cx="387.50" cy="551.50" r="2.25" fill="rgba(66,56,180,0.56)"/>
<circle cx="380.00" cy="557.00" r="2.25" fill="rgba(66,56,180,0.70)"/>
<circle cx="386.25" cy="562.50" r="2.25" fill="rgba(66,56,180,0.70)"/>
<circle cx="412.00" cy="559.50" r="2.25" fill="rgba(66,56,180,0.49)"/>
<circle cx="397.50" cy="566.50" r="2.25" fill="rgba(66,56,180,0.70)"/>
<circle cx="403.00" cy="565.00" r="2.25" fill="rgba(66,56,180,0.49)"/>
<circle cx="368.75" cy="569.00" r="2.25" fill="rgba(66,56,180,0.70)"/>
<circle cx="378.00" cy="569.00" r="2.25" fill="rgba(66,56,180,0.70)"/>
<circle cx="417.50" cy="572.00" r="2.25" fill="rgba(66,56,180,0.56)"/>
</g>
</g>
<g><rect x="427.40" y="525.75" width="57.0" height="57.0" fill="#060708"/>
<g clip-path="url(#cp12)" filter="url(#bl)">
<circle cx="431.90" cy="535.75" r="3.20" fill="rgba(48,138,160,0.68)"/>
<circle cx="430.40" cy="538.25" r="2.60" fill="rgba(48,138,160,0.54)"/>
<circle cx="440.65" cy="537.00" r="2.40" fill="rgba(48,138,160,0.68)"/>
<circle cx="450.65" cy="540.75" r="3.00" fill="rgba(48,138,160,0.68)"/>
<circle cx="475.65" cy="542.00" r="2.40" fill="rgba(48,138,160,0.54)"/>
<circle cx="465.15" cy="552.00" r="2.40" fill="rgba(48,138,160,0.68)"/>
<circle cx="449.40" cy="551.50" r="2.40" fill="rgba(48,138,160,0.54)"/>
<circle cx="441.90" cy="557.00" r="2.40" fill="rgba(48,138,160,0.68)"/>
<circle cx="448.15" cy="562.50" r="2.40" fill="rgba(48,138,160,0.68)"/>
<circle cx="473.90" cy="559.50" r="2.40" fill="rgba(48,138,160,0.48)"/>
<circle cx="459.40" cy="566.50" r="2.40" fill="rgba(48,138,160,0.68)"/>
<circle cx="464.90" cy="565.00" r="2.40" fill="rgba(48,138,160,0.48)"/>
<circle cx="430.65" cy="569.00" r="2.40" fill="rgba(48,138,160,0.68)"/>
<circle cx="439.90" cy="569.00" r="2.40" fill="rgba(48,138,160,0.68)"/>
<circle cx="479.40" cy="572.00" r="2.40" fill="rgba(48,138,160,0.54)"/>
</g>
<text transform="translate(466.10,580.05) scale(0.93,1)" font-size="7.6" text-anchor="start" font-weight="bold" fill="#fff">10 μm</text>
<line x1="472.80" y1="581.85" x2="480.10" y2="581.85" stroke="#fff" stroke-width="0.8"/>
</g>
<text transform="translate(91.70,459.70) scale(0.77,1)" font-size="8.8" text-anchor="middle" fill="#231f20" style="stroke-width:0.3" stroke="#231f20" stroke-width="0.22">p-AKT</text>
<text transform="translate(152.50,459.70) scale(0.77,1)" font-size="8.8" text-anchor="middle" fill="#231f20" style="stroke-width:0.3" stroke="#231f20" stroke-width="0.22">DAPI</text>
<text transform="translate(213.50,459.70) scale(0.77,1)" font-size="8.8" text-anchor="middle" fill="#231f20" style="stroke-width:0.3" stroke="#231f20" stroke-width="0.22">Merged</text>
<text transform="translate(332.00,459.70) scale(0.77,1)" font-size="8.8" text-anchor="middle" fill="#231f20" style="stroke-width:0.3" stroke="#231f20" stroke-width="0.22">p-ERK1/2</text>
<text transform="translate(394.50,459.70) scale(0.77,1)" font-size="8.8" text-anchor="middle" fill="#231f20" style="stroke-width:0.3" stroke="#231f20" stroke-width="0.22">DAPI</text>
<text transform="translate(456.00,459.70) scale(0.77,1)" font-size="8.8" text-anchor="middle" fill="#231f20" style="stroke-width:0.3" stroke="#231f20" stroke-width="0.22">Merged</text>
<text transform="translate(57.00,492.30) rotate(-90) scale(0.8,1)" font-size="9.0" text-anchor="middle" fill="#231f20" style="stroke-width:0.3" stroke="#231f20" stroke-width="0.22">WT + IR</text>
<text transform="translate(57.00,554.30) rotate(-90) scale(0.78,1)" font-size="9.0" text-anchor="middle" fill="#231f20" style="stroke-width:0.3" stroke="#231f20" stroke-width="0.22">MC5R<tspan font-size="5.94" dy="-3.24" dx="0.3" letter-spacing="0.25">−/−</tspan><tspan dy="3.24" dx="0.1"> + IR</tspan></text>
<text transform="translate(299.60,492.30) rotate(-90) scale(0.8,1)" font-size="9.0" text-anchor="middle" fill="#231f20" style="stroke-width:0.3" stroke="#231f20" stroke-width="0.22">WT + IR</text>
<text transform="translate(299.60,554.30) rotate(-90) scale(0.78,1)" font-size="9.0" text-anchor="middle" fill="#231f20" style="stroke-width:0.3" stroke="#231f20" stroke-width="0.22">MC5R<tspan font-size="5.94" dy="-3.24" dx="0.3" letter-spacing="0.25">−/−</tspan><tspan dy="3.24" dx="0.1"> + IR</tspan></text>
<rect x="0.5" y="0.5" width="519" height="589" fill="none" stroke="#555" stroke-width="1"/>
</svg>
</body></html>
